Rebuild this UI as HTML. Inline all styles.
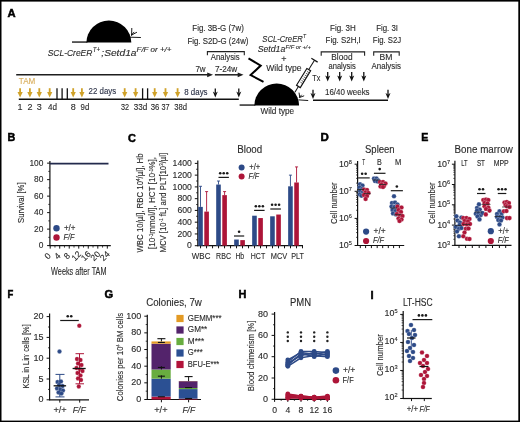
<!DOCTYPE html>
<html><head><meta charset="utf-8"><style>
html,body{margin:0;padding:0;background:#fff;}
body{width:520px;height:422px;overflow:hidden;}
svg{display:block;filter:blur(0.35px);}
text{font-family:"Liberation Sans", sans-serif;}
</style></head><body>
<svg width="520" height="422" viewBox="0 0 520 422">
<rect x="0" y="0" width="520" height="422" fill="#fff"/>
<g fill="#2a2a2a">
<text x="7.60" y="16.70" font-size="11.0" textLength="8.10" lengthAdjust="spacingAndGlyphs" font-weight="bold" fill="#000" stroke="#000" stroke-width="0.5">A</text>
<path d="M86.40,42.60 A22.45,22.10 0 0 1 131.30,42.60 Z" fill="#000" stroke="none" stroke-width="1"/>
<line x1="72.00" y1="42.05" x2="87.40" y2="42.05" stroke="#000" stroke-width="1.25" stroke-linecap="butt"/>
<line x1="131.80" y1="28.40" x2="131.60" y2="35.40" stroke="#000" stroke-width="0.9" stroke-linecap="round"/>
<line x1="131.70" y1="35.00" x2="136.60" y2="32.40" stroke="#000" stroke-width="0.9" stroke-linecap="round"/>
<line x1="131.70" y1="34.60" x2="134.00" y2="32.20" stroke="#000" stroke-width="0.9" stroke-linecap="round"/>
<line x1="130.40" y1="37.20" x2="140.50" y2="37.50" stroke="#000" stroke-width="0.9" stroke-linecap="round"/>
<text x="47.70" y="56.20" font-size="9.7" textLength="44.70" lengthAdjust="spacingAndGlyphs" font-style="italic" stroke="#2a2a2a" stroke-width="0.12">SCL-CreER</text>
<text x="92.80" y="52.10" font-size="6.6" textLength="7.40" lengthAdjust="spacingAndGlyphs" font-style="italic" stroke="#2a2a2a" stroke-width="0.12">T+</text>
<text x="101.30" y="56.30" font-size="9.7" textLength="35.20" lengthAdjust="spacingAndGlyphs" font-style="italic" stroke="#2a2a2a" stroke-width="0.12">;Setd1a</text>
<text x="136.50" y="52.30" font-size="6.6" textLength="35.00" lengthAdjust="spacingAndGlyphs" font-style="italic" stroke="#2a2a2a" stroke-width="0.12">F/F or +/+</text>
<line x1="16.20" y1="74.80" x2="208.00" y2="74.80" stroke="#1e1e1e" stroke-width="1.5" stroke-linecap="butt"/>
<path d="M207.20,72.40 L213.00,74.80 L207.20,77.20 Z" fill="#1e1e1e" stroke="none" stroke-width="1"/>
<line x1="214.90" y1="74.80" x2="238.50" y2="74.80" stroke="#1e1e1e" stroke-width="1.5" stroke-linecap="butt"/>
<path d="M237.70,72.40 L243.50,74.80 L237.70,77.20 Z" fill="#1e1e1e" stroke="none" stroke-width="1"/>
<text x="195.40" y="72.00" font-size="8.16" textLength="10.20" lengthAdjust="spacingAndGlyphs" stroke="#2a2a2a" stroke-width="0.12">7w</text>
<text x="214.90" y="72.00" font-size="8.16" textLength="22.40" lengthAdjust="spacingAndGlyphs" stroke="#2a2a2a" stroke-width="0.12">7-24w</text>
<text x="18.80" y="84.20" font-size="8.76" textLength="16.50" lengthAdjust="spacingAndGlyphs" fill="#d9ae5c" stroke="#d9ae5c" stroke-width="0.12">TAM</text>
<line x1="20.10" y1="88.20" x2="20.10" y2="94.40" stroke="#d0a22a" stroke-width="1.8" stroke-linecap="butt"/>
<path d="M17.50,92.00 L22.70,92.00 L20.10,97.40 Z" fill="#d0a22a" stroke="none" stroke-width="1"/>
<line x1="29.90" y1="88.20" x2="29.90" y2="94.40" stroke="#d0a22a" stroke-width="1.8" stroke-linecap="butt"/>
<path d="M27.30,92.00 L32.50,92.00 L29.90,97.40 Z" fill="#d0a22a" stroke="none" stroke-width="1"/>
<line x1="39.30" y1="88.20" x2="39.30" y2="94.40" stroke="#d0a22a" stroke-width="1.8" stroke-linecap="butt"/>
<path d="M36.70,92.00 L41.90,92.00 L39.30,97.40 Z" fill="#d0a22a" stroke="none" stroke-width="1"/>
<line x1="49.70" y1="88.20" x2="49.70" y2="94.40" stroke="#d0a22a" stroke-width="1.8" stroke-linecap="butt"/>
<path d="M47.10,92.00 L52.30,92.00 L49.70,97.40 Z" fill="#d0a22a" stroke="none" stroke-width="1"/>
<line x1="73.20" y1="88.20" x2="73.20" y2="94.40" stroke="#d0a22a" stroke-width="1.8" stroke-linecap="butt"/>
<path d="M70.60,92.00 L75.80,92.00 L73.20,97.40 Z" fill="#d0a22a" stroke="none" stroke-width="1"/>
<line x1="81.90" y1="88.20" x2="81.90" y2="94.40" stroke="#d0a22a" stroke-width="1.8" stroke-linecap="butt"/>
<path d="M79.30,92.00 L84.50,92.00 L81.90,97.40 Z" fill="#d0a22a" stroke="none" stroke-width="1"/>
<line x1="124.70" y1="88.20" x2="124.70" y2="94.40" stroke="#d0a22a" stroke-width="1.8" stroke-linecap="butt"/>
<path d="M122.10,92.00 L127.30,92.00 L124.70,97.40 Z" fill="#d0a22a" stroke="none" stroke-width="1"/>
<line x1="135.60" y1="88.20" x2="135.60" y2="94.40" stroke="#d0a22a" stroke-width="1.8" stroke-linecap="butt"/>
<path d="M133.00,92.00 L138.20,92.00 L135.60,97.40 Z" fill="#d0a22a" stroke="none" stroke-width="1"/>
<line x1="154.70" y1="88.20" x2="154.70" y2="94.40" stroke="#d0a22a" stroke-width="1.8" stroke-linecap="butt"/>
<path d="M152.10,92.00 L157.30,92.00 L154.70,97.40 Z" fill="#d0a22a" stroke="none" stroke-width="1"/>
<line x1="165.50" y1="88.20" x2="165.50" y2="94.40" stroke="#d0a22a" stroke-width="1.8" stroke-linecap="butt"/>
<path d="M162.90,92.00 L168.10,92.00 L165.50,97.40 Z" fill="#d0a22a" stroke="none" stroke-width="1"/>
<line x1="177.60" y1="88.20" x2="177.60" y2="94.40" stroke="#d0a22a" stroke-width="1.8" stroke-linecap="butt"/>
<path d="M175.00,92.00 L180.20,92.00 L177.60,97.40 Z" fill="#d0a22a" stroke="none" stroke-width="1"/>
<line x1="18.80" y1="99.20" x2="238.80" y2="99.20" stroke="#111" stroke-width="1.4" stroke-linecap="butt"/>
<line x1="57.00" y1="88.30" x2="57.00" y2="99.00" stroke="#111" stroke-width="1.3" stroke-linecap="butt"/>
<line x1="62.10" y1="88.30" x2="62.10" y2="99.00" stroke="#111" stroke-width="1.3" stroke-linecap="butt"/>
<line x1="67.30" y1="88.30" x2="67.30" y2="99.00" stroke="#111" stroke-width="1.3" stroke-linecap="butt"/>
<line x1="142.60" y1="88.30" x2="142.60" y2="99.00" stroke="#111" stroke-width="1.3" stroke-linecap="butt"/>
<line x1="147.60" y1="88.30" x2="147.60" y2="99.00" stroke="#111" stroke-width="1.3" stroke-linecap="butt"/>
<text x="88.60" y="93.90" font-size="9.0" textLength="27.60" lengthAdjust="spacingAndGlyphs" fill="#2a3045" stroke="#2a3045" stroke-width="0.12">22 days</text>
<text x="184.20" y="94.70" font-size="9.0" textLength="23.40" lengthAdjust="spacingAndGlyphs" fill="#2a3045" stroke="#2a3045" stroke-width="0.12">8 days</text>
<line x1="215.30" y1="88.50" x2="215.30" y2="93.10" stroke="#111" stroke-width="1.3" stroke-linecap="butt"/>
<path d="M212.80,91.60 L215.30,93.20 L217.80,91.60 L215.30,97.60 Z" fill="#111" stroke="none" stroke-width="1"/>
<line x1="238.80" y1="88.50" x2="238.80" y2="93.10" stroke="#111" stroke-width="1.3" stroke-linecap="butt"/>
<path d="M236.30,91.60 L238.80,93.20 L241.30,91.60 L238.80,97.60 Z" fill="#111" stroke="none" stroke-width="1"/>
<text x="20.10" y="109.80" font-size="9.0" text-anchor="middle" stroke="#2a2a2a" stroke-width="0.12">1</text>
<text x="29.90" y="109.80" font-size="9.0" text-anchor="middle" stroke="#2a2a2a" stroke-width="0.12">2</text>
<text x="39.30" y="109.80" font-size="9.0" text-anchor="middle" stroke="#2a2a2a" stroke-width="0.12">3</text>
<text x="73.20" y="109.80" font-size="9.0" text-anchor="middle" stroke="#2a2a2a" stroke-width="0.12">8</text>
<text x="48.00" y="109.80" font-size="9.0" textLength="9.00" lengthAdjust="spacingAndGlyphs" stroke="#2a2a2a" stroke-width="0.12">4d</text>
<text x="80.60" y="109.80" font-size="9.0" textLength="8.70" lengthAdjust="spacingAndGlyphs" stroke="#2a2a2a" stroke-width="0.12">9d</text>
<text x="121.00" y="109.80" font-size="9.0" textLength="8.10" lengthAdjust="spacingAndGlyphs" stroke="#2a2a2a" stroke-width="0.12">32</text>
<text x="133.80" y="109.80" font-size="9.0" textLength="13.50" lengthAdjust="spacingAndGlyphs" stroke="#2a2a2a" stroke-width="0.12">33d</text>
<text x="150.70" y="109.80" font-size="9.0" textLength="8.70" lengthAdjust="spacingAndGlyphs" stroke="#2a2a2a" stroke-width="0.12">36</text>
<text x="161.40" y="109.80" font-size="9.0" textLength="8.10" lengthAdjust="spacingAndGlyphs" stroke="#2a2a2a" stroke-width="0.12">37</text>
<text x="174.20" y="109.80" font-size="9.0" textLength="12.80" lengthAdjust="spacingAndGlyphs" stroke="#2a2a2a" stroke-width="0.12">38d</text>
<text x="192.30" y="30.80" font-size="8.64" textLength="51.50" lengthAdjust="spacingAndGlyphs" stroke="#2a2a2a" stroke-width="0.12">Fig. 3B-G (7w)</text>
<text x="187.40" y="43.50" font-size="8.64" textLength="61.10" lengthAdjust="spacingAndGlyphs" stroke="#2a2a2a" stroke-width="0.12">Fig. S2D-G (24w)</text>
<path d="M207.4,55.3 V51.6 H244.3 V55.3" fill="none" stroke="#222" stroke-width="1.1"/>
<text x="210.80" y="60.40" font-size="9.0" textLength="28.90" lengthAdjust="spacingAndGlyphs" stroke="#2a2a2a" stroke-width="0.12">Analysis</text>
<path d="M248.5,58.3 L260.7,65.6 L250.6,75.1 L263.5,81.8" fill="none" stroke="#000" stroke-width="2.0" stroke-linejoin="miter"/>
<text x="262.30" y="41.50" font-size="9.12" textLength="40.50" lengthAdjust="spacingAndGlyphs" font-style="italic" stroke="#2a2a2a" stroke-width="0.12">SCL-CreER</text>
<text x="303.00" y="38.30" font-size="6.0" textLength="3.00" lengthAdjust="spacingAndGlyphs" font-style="italic" stroke="#2a2a2a" stroke-width="0.12">T</text>
<text x="257.70" y="51.50" font-size="9.12" textLength="27.60" lengthAdjust="spacingAndGlyphs" font-style="italic" stroke="#2a2a2a" stroke-width="0.12">Setd1a</text>
<text x="285.60" y="48.60" font-size="6.0" textLength="25.20" lengthAdjust="spacingAndGlyphs" font-style="italic" stroke="#2a2a2a" stroke-width="0.12">F/F or +/+</text>
<text x="283.80" y="61.60" font-size="9.0" text-anchor="middle" stroke="#2a2a2a" stroke-width="0.12">+</text>
<text x="266.20" y="70.80" font-size="9.0" textLength="35.30" lengthAdjust="spacingAndGlyphs" stroke="#2a2a2a" stroke-width="0.12">Wild type</text>
<g transform="translate(314.5,60.2) rotate(121.5)"><line x1="0" y1="-3.7" x2="0" y2="3.7" stroke="#111" stroke-width="1.2"/><line x1="0" y1="0" x2="11" y2="0" stroke="#111" stroke-width="1"/><rect x="11" y="-2.2" width="19.8" height="4.4" fill="#fff" stroke="#111" stroke-width="1.15"/><line x1="13.5" y1="-2.2" x2="13.5" y2="0.5" stroke="#111" stroke-width="0.6"/><line x1="15.6" y1="-2.2" x2="15.6" y2="0.5" stroke="#111" stroke-width="0.6"/><line x1="17.7" y1="-2.2" x2="17.7" y2="0.5" stroke="#111" stroke-width="0.6"/><line x1="19.8" y1="-2.2" x2="19.8" y2="0.5" stroke="#111" stroke-width="0.6"/><line x1="21.9" y1="-2.2" x2="21.9" y2="0.5" stroke="#111" stroke-width="0.6"/><line x1="24.0" y1="-2.2" x2="24.0" y2="0.5" stroke="#111" stroke-width="0.6"/><line x1="26.1" y1="-2.2" x2="26.1" y2="0.5" stroke="#111" stroke-width="0.6"/><line x1="30.8" y1="0" x2="37.5" y2="0" stroke="#111" stroke-width="1"/></g>
<path d="M254.30,105.60 A22.40,22.00 0 0 1 299.10,105.60 Z" fill="#000" stroke="none" stroke-width="1"/>
<line x1="239.60" y1="105.05" x2="255.30" y2="105.05" stroke="#000" stroke-width="1.25" stroke-linecap="butt"/>
<line x1="299.10" y1="93.00" x2="299.70" y2="97.20" stroke="#000" stroke-width="0.9" stroke-linecap="round"/>
<line x1="299.70" y1="97.10" x2="301.40" y2="95.10" stroke="#000" stroke-width="0.9" stroke-linecap="round"/>
<line x1="299.80" y1="97.40" x2="303.80" y2="95.90" stroke="#000" stroke-width="0.9" stroke-linecap="round"/>
<line x1="298.80" y1="99.90" x2="307.80" y2="100.50" stroke="#000" stroke-width="0.9" stroke-linecap="round"/>
<text x="260.40" y="114.20" font-size="9.0" textLength="33.80" lengthAdjust="spacingAndGlyphs" stroke="#2a2a2a" stroke-width="0.12">Wild type</text>
<text x="330.00" y="30.80" font-size="8.64" textLength="25.80" lengthAdjust="spacingAndGlyphs" stroke="#2a2a2a" stroke-width="0.12">Fig. 3H</text>
<text x="325.60" y="42.90" font-size="8.64" textLength="35.20" lengthAdjust="spacingAndGlyphs" stroke="#2a2a2a" stroke-width="0.12">Fig. S2H,I</text>
<text x="376.20" y="30.80" font-size="8.64" textLength="21.80" lengthAdjust="spacingAndGlyphs" stroke="#2a2a2a" stroke-width="0.12">Fig. 3I</text>
<text x="372.70" y="42.90" font-size="8.64" textLength="28.50" lengthAdjust="spacingAndGlyphs" stroke="#2a2a2a" stroke-width="0.12">Fig. S2J</text>
<path d="M321.2,55.8 V51.9 H364.6 V55.8" fill="none" stroke="#222" stroke-width="1.1"/>
<path d="M373.7,55.8 V51.9 H399.2 V55.8" fill="none" stroke="#222" stroke-width="1.1"/>
<text x="331.30" y="59.50" font-size="9.0" textLength="21.20" lengthAdjust="spacingAndGlyphs" stroke="#2a2a2a" stroke-width="0.12">Blood</text>
<text x="379.40" y="59.50" font-size="9.0" textLength="12.90" lengthAdjust="spacingAndGlyphs" stroke="#2a2a2a" stroke-width="0.12">BM</text>
<text x="328.50" y="68.70" font-size="9.0" textLength="27.30" lengthAdjust="spacingAndGlyphs" stroke="#2a2a2a" stroke-width="0.12">analysis</text>
<text x="371.50" y="68.70" font-size="9.0" textLength="29.50" lengthAdjust="spacingAndGlyphs" stroke="#2a2a2a" stroke-width="0.12">Analysis</text>
<text x="312.30" y="80.70" font-size="9.0" textLength="8.00" lengthAdjust="spacingAndGlyphs" stroke="#2a2a2a" stroke-width="0.12">Tx</text>
<line x1="327.70" y1="72.00" x2="327.70" y2="76.90" stroke="#111" stroke-width="1.3" stroke-linecap="butt"/>
<path d="M325.20,75.40 L327.70,77.00 L330.20,75.40 L327.70,81.40 Z" fill="#111" stroke="none" stroke-width="1"/>
<line x1="339.70" y1="72.00" x2="339.70" y2="76.90" stroke="#111" stroke-width="1.3" stroke-linecap="butt"/>
<path d="M337.20,75.40 L339.70,77.00 L342.20,75.40 L339.70,81.40 Z" fill="#111" stroke="none" stroke-width="1"/>
<line x1="351.70" y1="72.00" x2="351.70" y2="76.90" stroke="#111" stroke-width="1.3" stroke-linecap="butt"/>
<path d="M349.20,75.40 L351.70,77.00 L354.20,75.40 L351.70,81.40 Z" fill="#111" stroke="none" stroke-width="1"/>
<line x1="363.80" y1="72.00" x2="363.80" y2="76.90" stroke="#111" stroke-width="1.3" stroke-linecap="butt"/>
<path d="M361.30,75.40 L363.80,77.00 L366.30,75.40 L363.80,81.40 Z" fill="#111" stroke="none" stroke-width="1"/>
<line x1="313.00" y1="100.20" x2="388.00" y2="100.20" stroke="#111" stroke-width="1.4" stroke-linecap="butt"/>
<line x1="313.00" y1="89.80" x2="313.00" y2="94.50" stroke="#111" stroke-width="1.3" stroke-linecap="butt"/>
<path d="M310.50,93.00 L313.00,94.60 L315.50,93.00 L313.00,99.00 Z" fill="#111" stroke="none" stroke-width="1"/>
<line x1="388.00" y1="89.80" x2="388.00" y2="94.50" stroke="#111" stroke-width="1.3" stroke-linecap="butt"/>
<path d="M385.50,93.00 L388.00,94.60 L390.50,93.00 L388.00,99.00 Z" fill="#111" stroke="none" stroke-width="1"/>
<text x="325.00" y="94.60" font-size="9.0" textLength="44.60" lengthAdjust="spacingAndGlyphs" stroke="#2a2a2a" stroke-width="0.12">16/40 weeks</text>
<text x="7.40" y="141.10" font-size="11.0" textLength="7.80" lengthAdjust="spacingAndGlyphs" font-weight="bold" fill="#000" stroke="#000" stroke-width="0.5">B</text>
<line x1="49.90" y1="161.00" x2="49.90" y2="246.10" stroke="#111" stroke-width="1.2" stroke-linecap="butt"/>
<line x1="49.40" y1="245.60" x2="110.80" y2="245.60" stroke="#111" stroke-width="1.2" stroke-linecap="butt"/>
<line x1="47.10" y1="245.60" x2="49.90" y2="245.60" stroke="#111" stroke-width="1" stroke-linecap="butt"/>
<text x="43.40" y="248.10" font-size="8.4" text-anchor="end" stroke="#2a2a2a" stroke-width="0.12">0</text>
<line x1="47.10" y1="229.11" x2="49.90" y2="229.11" stroke="#111" stroke-width="1" stroke-linecap="butt"/>
<text x="43.40" y="231.61" font-size="8.4" text-anchor="end" stroke="#2a2a2a" stroke-width="0.12">20</text>
<line x1="47.10" y1="212.62" x2="49.90" y2="212.62" stroke="#111" stroke-width="1" stroke-linecap="butt"/>
<text x="43.40" y="215.12" font-size="8.4" text-anchor="end" stroke="#2a2a2a" stroke-width="0.12">40</text>
<line x1="47.10" y1="196.13" x2="49.90" y2="196.13" stroke="#111" stroke-width="1" stroke-linecap="butt"/>
<text x="43.40" y="198.63" font-size="8.4" text-anchor="end" stroke="#2a2a2a" stroke-width="0.12">60</text>
<line x1="47.10" y1="179.64" x2="49.90" y2="179.64" stroke="#111" stroke-width="1" stroke-linecap="butt"/>
<text x="43.40" y="182.14" font-size="8.4" text-anchor="end" stroke="#2a2a2a" stroke-width="0.12">80</text>
<line x1="47.10" y1="163.15" x2="49.90" y2="163.15" stroke="#111" stroke-width="1" stroke-linecap="butt"/>
<text x="43.40" y="165.65" font-size="8.4" text-anchor="end" stroke="#2a2a2a" stroke-width="0.12">100</text>
<line x1="48.30" y1="237.35" x2="49.90" y2="237.35" stroke="#111" stroke-width="0.8" stroke-linecap="butt"/>
<line x1="48.30" y1="220.87" x2="49.90" y2="220.87" stroke="#111" stroke-width="0.8" stroke-linecap="butt"/>
<line x1="48.30" y1="204.38" x2="49.90" y2="204.38" stroke="#111" stroke-width="0.8" stroke-linecap="butt"/>
<line x1="48.30" y1="187.88" x2="49.90" y2="187.88" stroke="#111" stroke-width="0.8" stroke-linecap="butt"/>
<line x1="48.30" y1="171.39" x2="49.90" y2="171.39" stroke="#111" stroke-width="0.8" stroke-linecap="butt"/>
<line x1="50.20" y1="245.60" x2="50.20" y2="248.60" stroke="#111" stroke-width="1" stroke-linecap="butt"/>
<text x="0" y="0" font-size="8.64" text-anchor="middle" stroke="#2a2a2a" stroke-width="0.12" transform="translate(49.80,258.00) rotate(-45)">0</text>
<line x1="59.72" y1="245.60" x2="59.72" y2="248.60" stroke="#111" stroke-width="1" stroke-linecap="butt"/>
<text x="0" y="0" font-size="8.64" text-anchor="middle" stroke="#2a2a2a" stroke-width="0.12" transform="translate(59.32,258.00) rotate(-45)">4</text>
<line x1="69.24" y1="245.60" x2="69.24" y2="248.60" stroke="#111" stroke-width="1" stroke-linecap="butt"/>
<text x="0" y="0" font-size="8.64" text-anchor="middle" stroke="#2a2a2a" stroke-width="0.12" transform="translate(68.84,258.00) rotate(-45)">8</text>
<line x1="78.76" y1="245.60" x2="78.76" y2="248.60" stroke="#111" stroke-width="1" stroke-linecap="butt"/>
<text x="0" y="0" font-size="8.64" text-anchor="middle" stroke="#2a2a2a" stroke-width="0.12" transform="translate(78.36,258.00) rotate(-45)">12</text>
<line x1="88.28" y1="245.60" x2="88.28" y2="248.60" stroke="#111" stroke-width="1" stroke-linecap="butt"/>
<text x="0" y="0" font-size="8.64" text-anchor="middle" stroke="#2a2a2a" stroke-width="0.12" transform="translate(87.88,258.00) rotate(-45)">16</text>
<line x1="97.80" y1="245.60" x2="97.80" y2="248.60" stroke="#111" stroke-width="1" stroke-linecap="butt"/>
<text x="0" y="0" font-size="8.64" text-anchor="middle" stroke="#2a2a2a" stroke-width="0.12" transform="translate(97.40,258.00) rotate(-45)">20</text>
<line x1="107.32" y1="245.60" x2="107.32" y2="248.60" stroke="#111" stroke-width="1" stroke-linecap="butt"/>
<text x="0" y="0" font-size="8.64" text-anchor="middle" stroke="#2a2a2a" stroke-width="0.12" transform="translate(106.92,258.00) rotate(-45)">24</text>
<line x1="54.96" y1="245.60" x2="54.96" y2="247.60" stroke="#111" stroke-width="0.8" stroke-linecap="butt"/>
<line x1="64.48" y1="245.60" x2="64.48" y2="247.60" stroke="#111" stroke-width="0.8" stroke-linecap="butt"/>
<line x1="74.00" y1="245.60" x2="74.00" y2="247.60" stroke="#111" stroke-width="0.8" stroke-linecap="butt"/>
<line x1="83.52" y1="245.60" x2="83.52" y2="247.60" stroke="#111" stroke-width="0.8" stroke-linecap="butt"/>
<line x1="93.04" y1="245.60" x2="93.04" y2="247.60" stroke="#111" stroke-width="0.8" stroke-linecap="butt"/>
<line x1="102.56" y1="245.60" x2="102.56" y2="247.60" stroke="#111" stroke-width="0.8" stroke-linecap="butt"/>
<line x1="49.90" y1="163.60" x2="108.50" y2="163.60" stroke="#232a4c" stroke-width="1.7" stroke-linecap="butt"/>
<text x="0" y="0" font-size="8.88" textLength="40.60" lengthAdjust="spacingAndGlyphs" text-anchor="middle" stroke="#2a2a2a" stroke-width="0.12" transform="translate(23.50,202.70) rotate(-90)">Survival [%]</text>
<circle cx="56.50" cy="228.30" r="3.2" fill="#2d4a87"/>
<circle cx="56.50" cy="237.50" r="3.2" fill="#ad1538"/>
<text x="63.90" y="230.90" font-size="8.64" textLength="11.60" lengthAdjust="spacingAndGlyphs" stroke="#2a2a2a" stroke-width="0.12">+/+</text>
<text x="63.60" y="239.80" font-size="8.64" textLength="11.00" lengthAdjust="spacingAndGlyphs" font-style="italic" stroke="#2a2a2a" stroke-width="0.12">F/F</text>
<text x="51.10" y="274.60" font-size="11.16" textLength="55.40" lengthAdjust="spacingAndGlyphs" stroke="#2a2a2a" stroke-width="0.12">Weeks after TAM</text>
<text x="128.10" y="141.50" font-size="11.0" textLength="7.90" lengthAdjust="spacingAndGlyphs" font-weight="bold" fill="#000" stroke="#000" stroke-width="0.5">C</text>
<text x="237.20" y="152.60" font-size="10.44" textLength="25.00" lengthAdjust="spacingAndGlyphs" stroke="#2a2a2a" stroke-width="0.12">Blood</text>
<line x1="197.80" y1="160.50" x2="197.80" y2="246.20" stroke="#111" stroke-width="1.2" stroke-linecap="butt"/>
<line x1="197.30" y1="245.70" x2="303.00" y2="245.70" stroke="#111" stroke-width="1.2" stroke-linecap="butt"/>
<line x1="194.80" y1="245.70" x2="197.80" y2="245.70" stroke="#111" stroke-width="1" stroke-linecap="butt"/>
<text x="191.80" y="248.30" font-size="8.64" text-anchor="end" stroke="#2a2a2a" stroke-width="0.12">0</text>
<line x1="194.80" y1="233.94" x2="197.80" y2="233.94" stroke="#111" stroke-width="1" stroke-linecap="butt"/>
<text x="191.80" y="236.54" font-size="8.64" text-anchor="end" stroke="#2a2a2a" stroke-width="0.12">200</text>
<line x1="194.80" y1="222.18" x2="197.80" y2="222.18" stroke="#111" stroke-width="1" stroke-linecap="butt"/>
<text x="191.80" y="224.78" font-size="8.64" text-anchor="end" stroke="#2a2a2a" stroke-width="0.12">400</text>
<line x1="194.80" y1="210.42" x2="197.80" y2="210.42" stroke="#111" stroke-width="1" stroke-linecap="butt"/>
<text x="191.80" y="213.02" font-size="8.64" text-anchor="end" stroke="#2a2a2a" stroke-width="0.12">600</text>
<line x1="194.80" y1="198.66" x2="197.80" y2="198.66" stroke="#111" stroke-width="1" stroke-linecap="butt"/>
<text x="191.80" y="201.26" font-size="8.64" text-anchor="end" stroke="#2a2a2a" stroke-width="0.12">800</text>
<line x1="194.80" y1="186.90" x2="197.80" y2="186.90" stroke="#111" stroke-width="1" stroke-linecap="butt"/>
<text x="191.80" y="189.50" font-size="8.64" text-anchor="end" stroke="#2a2a2a" stroke-width="0.12">1000</text>
<line x1="194.80" y1="175.14" x2="197.80" y2="175.14" stroke="#111" stroke-width="1" stroke-linecap="butt"/>
<text x="191.80" y="177.74" font-size="8.64" text-anchor="end" stroke="#2a2a2a" stroke-width="0.12">1200</text>
<line x1="194.80" y1="163.38" x2="197.80" y2="163.38" stroke="#111" stroke-width="1" stroke-linecap="butt"/>
<text x="191.80" y="165.98" font-size="8.64" text-anchor="end" stroke="#2a2a2a" stroke-width="0.12">1400</text>
<line x1="196.10" y1="239.82" x2="197.80" y2="239.82" stroke="#111" stroke-width="0.8" stroke-linecap="butt"/>
<line x1="196.10" y1="228.06" x2="197.80" y2="228.06" stroke="#111" stroke-width="0.8" stroke-linecap="butt"/>
<line x1="196.10" y1="216.30" x2="197.80" y2="216.30" stroke="#111" stroke-width="0.8" stroke-linecap="butt"/>
<line x1="196.10" y1="204.54" x2="197.80" y2="204.54" stroke="#111" stroke-width="0.8" stroke-linecap="butt"/>
<line x1="196.10" y1="192.78" x2="197.80" y2="192.78" stroke="#111" stroke-width="0.8" stroke-linecap="butt"/>
<line x1="196.10" y1="181.02" x2="197.80" y2="181.02" stroke="#111" stroke-width="0.8" stroke-linecap="butt"/>
<line x1="196.10" y1="169.26" x2="197.80" y2="169.26" stroke="#111" stroke-width="0.8" stroke-linecap="butt"/>
<line x1="200.50" y1="186.31" x2="200.50" y2="206.89" stroke="#2d4a87" stroke-width="0.9" stroke-linecap="butt"/>
<line x1="199.00" y1="186.31" x2="202.00" y2="186.31" stroke="#2d4a87" stroke-width="0.9" stroke-linecap="butt"/>
<line x1="206.60" y1="191.60" x2="206.60" y2="211.60" stroke="#ad1538" stroke-width="0.9" stroke-linecap="butt"/>
<line x1="205.10" y1="191.60" x2="208.10" y2="191.60" stroke="#ad1538" stroke-width="0.9" stroke-linecap="butt"/>
<rect x="198.20" y="206.89" width="4.60" height="38.81" fill="#2d4a87"/>
<rect x="204.30" y="211.60" width="4.60" height="34.10" fill="#ad1538"/>
<line x1="218.49" y1="181.02" x2="218.49" y2="184.55" stroke="#2d4a87" stroke-width="0.9" stroke-linecap="butt"/>
<line x1="216.99" y1="181.02" x2="219.99" y2="181.02" stroke="#2d4a87" stroke-width="0.9" stroke-linecap="butt"/>
<line x1="224.59" y1="191.60" x2="224.59" y2="195.13" stroke="#ad1538" stroke-width="0.9" stroke-linecap="butt"/>
<line x1="223.09" y1="191.60" x2="226.09" y2="191.60" stroke="#ad1538" stroke-width="0.9" stroke-linecap="butt"/>
<rect x="216.19" y="184.55" width="4.60" height="61.15" fill="#2d4a87"/>
<rect x="222.29" y="195.13" width="4.60" height="50.57" fill="#ad1538"/>
<rect x="234.18" y="239.53" width="4.60" height="6.17" fill="#2d4a87"/>
<rect x="240.28" y="240.11" width="4.60" height="5.59" fill="#ad1538"/>
<rect x="252.17" y="215.71" width="4.60" height="29.99" fill="#2d4a87"/>
<rect x="258.27" y="218.06" width="4.60" height="27.64" fill="#ad1538"/>
<rect x="270.16" y="216.30" width="4.60" height="29.40" fill="#2d4a87"/>
<rect x="276.26" y="214.54" width="4.60" height="31.16" fill="#ad1538"/>
<line x1="290.45" y1="175.14" x2="290.45" y2="186.31" stroke="#2d4a87" stroke-width="0.9" stroke-linecap="butt"/>
<line x1="288.95" y1="175.14" x2="291.95" y2="175.14" stroke="#2d4a87" stroke-width="0.9" stroke-linecap="butt"/>
<line x1="296.55" y1="166.91" x2="296.55" y2="182.49" stroke="#ad1538" stroke-width="0.9" stroke-linecap="butt"/>
<line x1="295.05" y1="166.91" x2="298.05" y2="166.91" stroke="#ad1538" stroke-width="0.9" stroke-linecap="butt"/>
<rect x="288.15" y="186.31" width="4.60" height="59.39" fill="#2d4a87"/>
<rect x="294.25" y="182.49" width="4.60" height="63.21" fill="#ad1538"/>
<line x1="200.55" y1="245.70" x2="200.55" y2="248.30" stroke="#111" stroke-width="1" stroke-linecap="butt"/>
<line x1="206.55" y1="245.70" x2="206.55" y2="248.30" stroke="#111" stroke-width="1" stroke-linecap="butt"/>
<line x1="212.55" y1="245.70" x2="212.55" y2="248.30" stroke="#111" stroke-width="1" stroke-linecap="butt"/>
<line x1="218.54" y1="245.70" x2="218.54" y2="248.30" stroke="#111" stroke-width="1" stroke-linecap="butt"/>
<line x1="224.54" y1="245.70" x2="224.54" y2="248.30" stroke="#111" stroke-width="1" stroke-linecap="butt"/>
<line x1="230.54" y1="245.70" x2="230.54" y2="248.30" stroke="#111" stroke-width="1" stroke-linecap="butt"/>
<line x1="236.53" y1="245.70" x2="236.53" y2="248.30" stroke="#111" stroke-width="1" stroke-linecap="butt"/>
<line x1="242.53" y1="245.70" x2="242.53" y2="248.30" stroke="#111" stroke-width="1" stroke-linecap="butt"/>
<line x1="248.53" y1="245.70" x2="248.53" y2="248.30" stroke="#111" stroke-width="1" stroke-linecap="butt"/>
<line x1="254.52" y1="245.70" x2="254.52" y2="248.30" stroke="#111" stroke-width="1" stroke-linecap="butt"/>
<line x1="260.52" y1="245.70" x2="260.52" y2="248.30" stroke="#111" stroke-width="1" stroke-linecap="butt"/>
<line x1="266.52" y1="245.70" x2="266.52" y2="248.30" stroke="#111" stroke-width="1" stroke-linecap="butt"/>
<line x1="272.51" y1="245.70" x2="272.51" y2="248.30" stroke="#111" stroke-width="1" stroke-linecap="butt"/>
<line x1="278.51" y1="245.70" x2="278.51" y2="248.30" stroke="#111" stroke-width="1" stroke-linecap="butt"/>
<line x1="284.51" y1="245.70" x2="284.51" y2="248.30" stroke="#111" stroke-width="1" stroke-linecap="butt"/>
<line x1="290.50" y1="245.70" x2="290.50" y2="248.30" stroke="#111" stroke-width="1" stroke-linecap="butt"/>
<line x1="296.50" y1="245.70" x2="296.50" y2="248.30" stroke="#111" stroke-width="1" stroke-linecap="butt"/>
<line x1="302.50" y1="245.70" x2="302.50" y2="248.30" stroke="#111" stroke-width="1" stroke-linecap="butt"/>
<line x1="218.50" y1="177.40" x2="228.90" y2="177.40" stroke="#1a1a1a" stroke-width="1.2" stroke-linecap="butt"/>
<circle cx="220.20" cy="173.20" r="1.3" fill="#1a1a1a"/>
<circle cx="223.70" cy="173.20" r="1.3" fill="#1a1a1a"/>
<circle cx="227.20" cy="173.20" r="1.3" fill="#1a1a1a"/>
<line x1="234.00" y1="236.00" x2="244.20" y2="236.00" stroke="#1a1a1a" stroke-width="1.2" stroke-linecap="butt"/>
<circle cx="239.10" cy="231.80" r="1.3" fill="#1a1a1a"/>
<line x1="254.10" y1="210.40" x2="264.60" y2="210.40" stroke="#1a1a1a" stroke-width="1.2" stroke-linecap="butt"/>
<circle cx="255.85" cy="206.20" r="1.3" fill="#1a1a1a"/>
<circle cx="259.35" cy="206.20" r="1.3" fill="#1a1a1a"/>
<circle cx="262.85" cy="206.20" r="1.3" fill="#1a1a1a"/>
<line x1="270.30" y1="209.00" x2="280.90" y2="209.00" stroke="#1a1a1a" stroke-width="1.2" stroke-linecap="butt"/>
<circle cx="272.10" cy="204.80" r="1.3" fill="#1a1a1a"/>
<circle cx="275.60" cy="204.80" r="1.3" fill="#1a1a1a"/>
<circle cx="279.10" cy="204.80" r="1.3" fill="#1a1a1a"/>
<text x="191.80" y="259.00" font-size="9.12" textLength="18.60" lengthAdjust="spacingAndGlyphs" stroke="#2a2a2a" stroke-width="0.12">WBC</text>
<text x="216.10" y="259.00" font-size="9.12" textLength="14.90" lengthAdjust="spacingAndGlyphs" stroke="#2a2a2a" stroke-width="0.12">RBC</text>
<text x="235.40" y="259.00" font-size="9.12" textLength="8.80" lengthAdjust="spacingAndGlyphs" stroke="#2a2a2a" stroke-width="0.12">Hb</text>
<text x="250.80" y="259.00" font-size="9.12" textLength="14.40" lengthAdjust="spacingAndGlyphs" stroke="#2a2a2a" stroke-width="0.12">HCT</text>
<text x="270.80" y="259.00" font-size="9.12" textLength="16.50" lengthAdjust="spacingAndGlyphs" stroke="#2a2a2a" stroke-width="0.12">MCV</text>
<text x="291.30" y="259.00" font-size="9.12" textLength="12.70" lengthAdjust="spacingAndGlyphs" stroke="#2a2a2a" stroke-width="0.12">PLT</text>
<circle cx="241.60" cy="167.60" r="3" fill="#2d4a87"/>
<circle cx="241.60" cy="176.60" r="3" fill="#ad1538"/>
<text x="249.30" y="170.30" font-size="8.64" textLength="11.00" lengthAdjust="spacingAndGlyphs" stroke="#2a2a2a" stroke-width="0.12">+/+</text>
<text x="248.60" y="179.10" font-size="8.64" textLength="10.60" lengthAdjust="spacingAndGlyphs" font-style="italic" stroke="#2a2a2a" stroke-width="0.12">F/F</text>
<text x="0" y="0" font-size="9.36" textLength="99.10" lengthAdjust="spacingAndGlyphs" text-anchor="middle" stroke="#2a2a2a" stroke-width="0.12" transform="translate(142.90,203.00) rotate(-90)">WBC 10/µl], RBC 10<tspan font-size="5.4" dy="-2.8">4</tspan><tspan dy="2.8">/µl], Hb</tspan></text>
<text x="0" y="0" font-size="9.36" textLength="92.00" lengthAdjust="spacingAndGlyphs" text-anchor="middle" stroke="#2a2a2a" stroke-width="0.12" transform="translate(155.40,203.10) rotate(-90)">[10<tspan font-size="5.4" dy="-2.8">-1</tspan><tspan dy="2.8">mmol/l], HCT [10</tspan><tspan font-size="5.4" dy="-2.8">-1</tspan><tspan dy="2.8">%],</tspan></text>
<text x="0" y="0" font-size="9.36" textLength="99.80" lengthAdjust="spacingAndGlyphs" text-anchor="middle" stroke="#2a2a2a" stroke-width="0.12" transform="translate(166.00,202.70) rotate(-90)">MCV [10<tspan font-size="5.4" dy="-2.8">-1</tspan><tspan dy="2.8"> fL] and PLT[10</tspan><tspan font-size="5.4" dy="-2.8">3</tspan><tspan dy="2.8">/µl]</tspan></text>
<text x="320.50" y="140.70" font-size="11.0" textLength="8.30" lengthAdjust="spacingAndGlyphs" font-weight="bold" fill="#000" stroke="#000" stroke-width="0.5">D</text>
<text x="365.00" y="152.90" font-size="10.44" textLength="29.60" lengthAdjust="spacingAndGlyphs" stroke="#2a2a2a" stroke-width="0.12">Spleen</text>
<line x1="357.60" y1="161.00" x2="357.60" y2="246.00" stroke="#111" stroke-width="1.2" stroke-linecap="butt"/>
<line x1="357.10" y1="245.50" x2="404.20" y2="245.50" stroke="#111" stroke-width="1.2" stroke-linecap="butt"/>
<line x1="354.60" y1="245.50" x2="357.60" y2="245.50" stroke="#111" stroke-width="1" stroke-linecap="butt"/>
<text x="351.90" y="248.10" font-size="8.88" text-anchor="end" stroke="#2a2a2a" stroke-width="0.12">10<tspan font-size="5.6" dy="-3.3">5</tspan></text>
<line x1="356.00" y1="237.34" x2="357.60" y2="237.34" stroke="#111" stroke-width="0.7" stroke-linecap="butt"/>
<line x1="356.00" y1="232.57" x2="357.60" y2="232.57" stroke="#111" stroke-width="0.7" stroke-linecap="butt"/>
<line x1="356.00" y1="229.18" x2="357.60" y2="229.18" stroke="#111" stroke-width="0.7" stroke-linecap="butt"/>
<line x1="356.00" y1="226.56" x2="357.60" y2="226.56" stroke="#111" stroke-width="0.7" stroke-linecap="butt"/>
<line x1="356.00" y1="224.41" x2="357.60" y2="224.41" stroke="#111" stroke-width="0.7" stroke-linecap="butt"/>
<line x1="356.00" y1="222.60" x2="357.60" y2="222.60" stroke="#111" stroke-width="0.7" stroke-linecap="butt"/>
<line x1="356.00" y1="221.03" x2="357.60" y2="221.03" stroke="#111" stroke-width="0.7" stroke-linecap="butt"/>
<line x1="356.00" y1="219.64" x2="357.60" y2="219.64" stroke="#111" stroke-width="0.7" stroke-linecap="butt"/>
<line x1="354.60" y1="218.40" x2="357.60" y2="218.40" stroke="#111" stroke-width="1" stroke-linecap="butt"/>
<text x="351.90" y="221.00" font-size="8.88" text-anchor="end" stroke="#2a2a2a" stroke-width="0.12">10<tspan font-size="5.6" dy="-3.3">6</tspan></text>
<line x1="356.00" y1="210.24" x2="357.60" y2="210.24" stroke="#111" stroke-width="0.7" stroke-linecap="butt"/>
<line x1="356.00" y1="205.47" x2="357.60" y2="205.47" stroke="#111" stroke-width="0.7" stroke-linecap="butt"/>
<line x1="356.00" y1="202.08" x2="357.60" y2="202.08" stroke="#111" stroke-width="0.7" stroke-linecap="butt"/>
<line x1="356.00" y1="199.46" x2="357.60" y2="199.46" stroke="#111" stroke-width="0.7" stroke-linecap="butt"/>
<line x1="356.00" y1="197.31" x2="357.60" y2="197.31" stroke="#111" stroke-width="0.7" stroke-linecap="butt"/>
<line x1="356.00" y1="195.50" x2="357.60" y2="195.50" stroke="#111" stroke-width="0.7" stroke-linecap="butt"/>
<line x1="356.00" y1="193.93" x2="357.60" y2="193.93" stroke="#111" stroke-width="0.7" stroke-linecap="butt"/>
<line x1="356.00" y1="192.54" x2="357.60" y2="192.54" stroke="#111" stroke-width="0.7" stroke-linecap="butt"/>
<line x1="354.60" y1="191.30" x2="357.60" y2="191.30" stroke="#111" stroke-width="1" stroke-linecap="butt"/>
<text x="351.90" y="193.90" font-size="8.88" text-anchor="end" stroke="#2a2a2a" stroke-width="0.12">10<tspan font-size="5.6" dy="-3.3">7</tspan></text>
<line x1="356.00" y1="183.14" x2="357.60" y2="183.14" stroke="#111" stroke-width="0.7" stroke-linecap="butt"/>
<line x1="356.00" y1="178.37" x2="357.60" y2="178.37" stroke="#111" stroke-width="0.7" stroke-linecap="butt"/>
<line x1="356.00" y1="174.98" x2="357.60" y2="174.98" stroke="#111" stroke-width="0.7" stroke-linecap="butt"/>
<line x1="356.00" y1="172.36" x2="357.60" y2="172.36" stroke="#111" stroke-width="0.7" stroke-linecap="butt"/>
<line x1="356.00" y1="170.21" x2="357.60" y2="170.21" stroke="#111" stroke-width="0.7" stroke-linecap="butt"/>
<line x1="356.00" y1="168.40" x2="357.60" y2="168.40" stroke="#111" stroke-width="0.7" stroke-linecap="butt"/>
<line x1="356.00" y1="166.83" x2="357.60" y2="166.83" stroke="#111" stroke-width="0.7" stroke-linecap="butt"/>
<line x1="356.00" y1="165.44" x2="357.60" y2="165.44" stroke="#111" stroke-width="0.7" stroke-linecap="butt"/>
<line x1="354.60" y1="164.20" x2="357.60" y2="164.20" stroke="#111" stroke-width="1" stroke-linecap="butt"/>
<text x="351.90" y="166.80" font-size="8.88" text-anchor="end" stroke="#2a2a2a" stroke-width="0.12">10<tspan font-size="5.6" dy="-3.3">8</tspan></text>
<line x1="360.30" y1="245.50" x2="360.30" y2="248.10" stroke="#111" stroke-width="1" stroke-linecap="butt"/>
<line x1="365.60" y1="245.50" x2="365.60" y2="248.10" stroke="#111" stroke-width="1" stroke-linecap="butt"/>
<line x1="371.40" y1="245.50" x2="371.40" y2="248.10" stroke="#111" stroke-width="1" stroke-linecap="butt"/>
<line x1="377.20" y1="245.50" x2="377.20" y2="248.10" stroke="#111" stroke-width="1" stroke-linecap="butt"/>
<line x1="382.70" y1="245.50" x2="382.70" y2="248.10" stroke="#111" stroke-width="1" stroke-linecap="butt"/>
<line x1="388.30" y1="245.50" x2="388.30" y2="248.10" stroke="#111" stroke-width="1" stroke-linecap="butt"/>
<line x1="393.60" y1="245.50" x2="393.60" y2="248.10" stroke="#111" stroke-width="1" stroke-linecap="butt"/>
<line x1="399.40" y1="245.50" x2="399.40" y2="248.10" stroke="#111" stroke-width="1" stroke-linecap="butt"/>
<text x="362.20" y="165.20" font-size="8.28" textLength="2.90" lengthAdjust="spacingAndGlyphs" stroke="#2a2a2a" stroke-width="0.12">T</text>
<text x="377.10" y="165.20" font-size="8.28" textLength="4.80" lengthAdjust="spacingAndGlyphs" stroke="#2a2a2a" stroke-width="0.12">B</text>
<text x="394.90" y="165.20" font-size="8.28" textLength="6.30" lengthAdjust="spacingAndGlyphs" stroke="#2a2a2a" stroke-width="0.12">M</text>
<circle cx="360.00" cy="184.20" r="2.3" fill="#2d4a87" stroke="#fff" stroke-opacity="0.6" stroke-width="0.4"/>
<circle cx="362.50" cy="185.50" r="2.3" fill="#2d4a87" stroke="#fff" stroke-opacity="0.6" stroke-width="0.4"/>
<circle cx="359.50" cy="187.50" r="2.3" fill="#2d4a87" stroke="#fff" stroke-opacity="0.6" stroke-width="0.4"/>
<circle cx="362.00" cy="189.00" r="2.3" fill="#2d4a87" stroke="#fff" stroke-opacity="0.6" stroke-width="0.4"/>
<circle cx="360.00" cy="191.00" r="2.3" fill="#2d4a87" stroke="#fff" stroke-opacity="0.6" stroke-width="0.4"/>
<circle cx="362.80" cy="192.30" r="2.3" fill="#2d4a87" stroke="#fff" stroke-opacity="0.6" stroke-width="0.4"/>
<circle cx="359.80" cy="194.50" r="2.3" fill="#2d4a87" stroke="#fff" stroke-opacity="0.6" stroke-width="0.4"/>
<circle cx="361.50" cy="195.80" r="2.3" fill="#2d4a87" stroke="#fff" stroke-opacity="0.6" stroke-width="0.4"/>
<circle cx="374.00" cy="178.50" r="2.3" fill="#2d4a87" stroke="#fff" stroke-opacity="0.6" stroke-width="0.4"/>
<circle cx="376.50" cy="178.50" r="2.3" fill="#2d4a87" stroke="#fff" stroke-opacity="0.6" stroke-width="0.4"/>
<circle cx="378.30" cy="180.50" r="2.3" fill="#2d4a87" stroke="#fff" stroke-opacity="0.6" stroke-width="0.4"/>
<circle cx="375.00" cy="181.00" r="2.3" fill="#2d4a87" stroke="#fff" stroke-opacity="0.6" stroke-width="0.4"/>
<circle cx="377.50" cy="181.50" r="2.3" fill="#2d4a87" stroke="#fff" stroke-opacity="0.6" stroke-width="0.4"/>
<circle cx="394.00" cy="196.20" r="2.3" fill="#2d4a87" stroke="#fff" stroke-opacity="0.6" stroke-width="0.4"/>
<circle cx="392.00" cy="203.00" r="2.3" fill="#2d4a87" stroke="#fff" stroke-opacity="0.6" stroke-width="0.4"/>
<circle cx="395.00" cy="202.50" r="2.3" fill="#2d4a87" stroke="#fff" stroke-opacity="0.6" stroke-width="0.4"/>
<circle cx="397.50" cy="204.50" r="2.3" fill="#2d4a87" stroke="#fff" stroke-opacity="0.6" stroke-width="0.4"/>
<circle cx="391.50" cy="206.50" r="2.3" fill="#2d4a87" stroke="#fff" stroke-opacity="0.6" stroke-width="0.4"/>
<circle cx="394.50" cy="207.00" r="2.3" fill="#2d4a87" stroke="#fff" stroke-opacity="0.6" stroke-width="0.4"/>
<circle cx="397.50" cy="208.00" r="2.3" fill="#2d4a87" stroke="#fff" stroke-opacity="0.6" stroke-width="0.4"/>
<circle cx="392.50" cy="210.00" r="2.3" fill="#2d4a87" stroke="#fff" stroke-opacity="0.6" stroke-width="0.4"/>
<circle cx="395.50" cy="211.00" r="2.3" fill="#2d4a87" stroke="#fff" stroke-opacity="0.6" stroke-width="0.4"/>
<circle cx="393.00" cy="213.50" r="2.3" fill="#2d4a87" stroke="#fff" stroke-opacity="0.6" stroke-width="0.4"/>
<circle cx="396.00" cy="214.50" r="2.3" fill="#2d4a87" stroke="#fff" stroke-opacity="0.6" stroke-width="0.4"/>
<circle cx="364.00" cy="189.50" r="2.3" fill="#ad1538" stroke="#fff" stroke-opacity="0.6" stroke-width="0.4"/>
<circle cx="367.00" cy="190.00" r="2.3" fill="#ad1538" stroke="#fff" stroke-opacity="0.6" stroke-width="0.4"/>
<circle cx="365.50" cy="192.50" r="2.3" fill="#ad1538" stroke="#fff" stroke-opacity="0.6" stroke-width="0.4"/>
<circle cx="368.50" cy="193.00" r="2.3" fill="#ad1538" stroke="#fff" stroke-opacity="0.6" stroke-width="0.4"/>
<circle cx="364.00" cy="195.00" r="2.3" fill="#ad1538" stroke="#fff" stroke-opacity="0.6" stroke-width="0.4"/>
<circle cx="367.00" cy="196.00" r="2.3" fill="#ad1538" stroke="#fff" stroke-opacity="0.6" stroke-width="0.4"/>
<circle cx="365.60" cy="199.00" r="2.3" fill="#ad1538" stroke="#fff" stroke-opacity="0.6" stroke-width="0.4"/>
<circle cx="380.00" cy="182.00" r="2.3" fill="#ad1538" stroke="#fff" stroke-opacity="0.6" stroke-width="0.4"/>
<circle cx="383.00" cy="182.00" r="2.3" fill="#ad1538" stroke="#fff" stroke-opacity="0.6" stroke-width="0.4"/>
<circle cx="385.50" cy="183.50" r="2.3" fill="#ad1538" stroke="#fff" stroke-opacity="0.6" stroke-width="0.4"/>
<circle cx="381.50" cy="184.50" r="2.3" fill="#ad1538" stroke="#fff" stroke-opacity="0.6" stroke-width="0.4"/>
<circle cx="384.00" cy="186.00" r="2.3" fill="#ad1538" stroke="#fff" stroke-opacity="0.6" stroke-width="0.4"/>
<circle cx="380.50" cy="186.50" r="2.3" fill="#ad1538" stroke="#fff" stroke-opacity="0.6" stroke-width="0.4"/>
<circle cx="383.00" cy="187.00" r="2.3" fill="#ad1538" stroke="#fff" stroke-opacity="0.6" stroke-width="0.4"/>
<circle cx="397.50" cy="206.50" r="2.3" fill="#ad1538" stroke="#fff" stroke-opacity="0.6" stroke-width="0.4"/>
<circle cx="401.50" cy="207.50" r="2.3" fill="#ad1538" stroke="#fff" stroke-opacity="0.6" stroke-width="0.4"/>
<circle cx="398.50" cy="210.00" r="2.3" fill="#ad1538" stroke="#fff" stroke-opacity="0.6" stroke-width="0.4"/>
<circle cx="401.00" cy="212.00" r="2.3" fill="#ad1538" stroke="#fff" stroke-opacity="0.6" stroke-width="0.4"/>
<circle cx="397.00" cy="214.00" r="2.3" fill="#ad1538" stroke="#fff" stroke-opacity="0.6" stroke-width="0.4"/>
<circle cx="400.00" cy="215.50" r="2.3" fill="#ad1538" stroke="#fff" stroke-opacity="0.6" stroke-width="0.4"/>
<circle cx="402.50" cy="216.00" r="2.3" fill="#ad1538" stroke="#fff" stroke-opacity="0.6" stroke-width="0.4"/>
<circle cx="398.50" cy="218.50" r="2.3" fill="#ad1538" stroke="#fff" stroke-opacity="0.6" stroke-width="0.4"/>
<circle cx="401.50" cy="219.50" r="2.3" fill="#ad1538" stroke="#fff" stroke-opacity="0.6" stroke-width="0.4"/>
<circle cx="399.50" cy="221.00" r="2.3" fill="#ad1538" stroke="#fff" stroke-opacity="0.6" stroke-width="0.4"/>
<line x1="357.80" y1="189.50" x2="364.00" y2="189.50" stroke="#222" stroke-width="0.8" stroke-linecap="butt"/>
<line x1="363.80" y1="193.60" x2="370.60" y2="193.60" stroke="#222" stroke-width="0.8" stroke-linecap="butt"/>
<line x1="372.50" y1="180.00" x2="379.50" y2="180.00" stroke="#222" stroke-width="0.8" stroke-linecap="butt"/>
<line x1="379.00" y1="184.50" x2="386.00" y2="184.50" stroke="#222" stroke-width="0.8" stroke-linecap="butt"/>
<line x1="390.50" y1="208.00" x2="397.00" y2="208.00" stroke="#222" stroke-width="0.8" stroke-linecap="butt"/>
<line x1="394.70" y1="214.70" x2="401.40" y2="214.70" stroke="#222" stroke-width="0.8" stroke-linecap="butt"/>
<line x1="358.10" y1="177.90" x2="369.70" y2="177.90" stroke="#1a1a1a" stroke-width="1.2" stroke-linecap="butt"/>
<circle cx="362.15" cy="173.70" r="1.3" fill="#1a1a1a"/>
<circle cx="365.65" cy="173.70" r="1.3" fill="#1a1a1a"/>
<line x1="373.90" y1="173.30" x2="385.50" y2="173.30" stroke="#1a1a1a" stroke-width="1.2" stroke-linecap="butt"/>
<circle cx="379.70" cy="169.10" r="1.3" fill="#1a1a1a"/>
<line x1="390.80" y1="190.70" x2="402.90" y2="190.70" stroke="#1a1a1a" stroke-width="1.2" stroke-linecap="butt"/>
<circle cx="396.85" cy="186.50" r="1.3" fill="#1a1a1a"/>
<circle cx="366.10" cy="231.60" r="3.1" fill="#2d4a87"/>
<circle cx="366.10" cy="241.00" r="3.1" fill="#ad1538"/>
<text x="373.50" y="234.30" font-size="8.64" textLength="12.20" lengthAdjust="spacingAndGlyphs" stroke="#2a2a2a" stroke-width="0.12">+/+</text>
<text x="373.00" y="243.40" font-size="8.64" textLength="11.10" lengthAdjust="spacingAndGlyphs" font-style="italic" stroke="#2a2a2a" stroke-width="0.12">F/F</text>
<text x="0" y="0" font-size="9.6" textLength="41.80" lengthAdjust="spacingAndGlyphs" text-anchor="middle" stroke="#2a2a2a" stroke-width="0.12" transform="translate(337.00,203.20) rotate(-90)">Cell number</text>
<text x="421.30" y="141.40" font-size="11.0" textLength="7.10" lengthAdjust="spacingAndGlyphs" font-weight="bold" fill="#000" stroke="#000" stroke-width="0.5">E</text>
<text x="454.50" y="152.80" font-size="10.44" textLength="58.40" lengthAdjust="spacingAndGlyphs" stroke="#2a2a2a" stroke-width="0.12">Bone marrow</text>
<line x1="454.90" y1="160.80" x2="454.90" y2="245.90" stroke="#111" stroke-width="1.2" stroke-linecap="butt"/>
<line x1="454.40" y1="245.40" x2="511.50" y2="245.40" stroke="#111" stroke-width="1.2" stroke-linecap="butt"/>
<line x1="451.90" y1="245.40" x2="454.90" y2="245.40" stroke="#111" stroke-width="1" stroke-linecap="butt"/>
<text x="450.20" y="248.00" font-size="8.88" text-anchor="end" stroke="#2a2a2a" stroke-width="0.12">10<tspan font-size="5.6" dy="-3.3">3</tspan></text>
<line x1="453.30" y1="239.29" x2="454.90" y2="239.29" stroke="#111" stroke-width="0.7" stroke-linecap="butt"/>
<line x1="453.30" y1="235.71" x2="454.90" y2="235.71" stroke="#111" stroke-width="0.7" stroke-linecap="butt"/>
<line x1="453.30" y1="233.18" x2="454.90" y2="233.18" stroke="#111" stroke-width="0.7" stroke-linecap="butt"/>
<line x1="453.30" y1="231.21" x2="454.90" y2="231.21" stroke="#111" stroke-width="0.7" stroke-linecap="butt"/>
<line x1="453.30" y1="229.60" x2="454.90" y2="229.60" stroke="#111" stroke-width="0.7" stroke-linecap="butt"/>
<line x1="453.30" y1="228.24" x2="454.90" y2="228.24" stroke="#111" stroke-width="0.7" stroke-linecap="butt"/>
<line x1="453.30" y1="227.07" x2="454.90" y2="227.07" stroke="#111" stroke-width="0.7" stroke-linecap="butt"/>
<line x1="453.30" y1="226.03" x2="454.90" y2="226.03" stroke="#111" stroke-width="0.7" stroke-linecap="butt"/>
<line x1="451.90" y1="225.10" x2="454.90" y2="225.10" stroke="#111" stroke-width="1" stroke-linecap="butt"/>
<text x="450.20" y="227.70" font-size="8.88" text-anchor="end" stroke="#2a2a2a" stroke-width="0.12">10<tspan font-size="5.6" dy="-3.3">4</tspan></text>
<line x1="453.30" y1="218.99" x2="454.90" y2="218.99" stroke="#111" stroke-width="0.7" stroke-linecap="butt"/>
<line x1="453.30" y1="215.41" x2="454.90" y2="215.41" stroke="#111" stroke-width="0.7" stroke-linecap="butt"/>
<line x1="453.30" y1="212.88" x2="454.90" y2="212.88" stroke="#111" stroke-width="0.7" stroke-linecap="butt"/>
<line x1="453.30" y1="210.91" x2="454.90" y2="210.91" stroke="#111" stroke-width="0.7" stroke-linecap="butt"/>
<line x1="453.30" y1="209.30" x2="454.90" y2="209.30" stroke="#111" stroke-width="0.7" stroke-linecap="butt"/>
<line x1="453.30" y1="207.94" x2="454.90" y2="207.94" stroke="#111" stroke-width="0.7" stroke-linecap="butt"/>
<line x1="453.30" y1="206.77" x2="454.90" y2="206.77" stroke="#111" stroke-width="0.7" stroke-linecap="butt"/>
<line x1="453.30" y1="205.73" x2="454.90" y2="205.73" stroke="#111" stroke-width="0.7" stroke-linecap="butt"/>
<line x1="451.90" y1="204.80" x2="454.90" y2="204.80" stroke="#111" stroke-width="1" stroke-linecap="butt"/>
<text x="450.20" y="207.40" font-size="8.88" text-anchor="end" stroke="#2a2a2a" stroke-width="0.12">10<tspan font-size="5.6" dy="-3.3">5</tspan></text>
<line x1="453.30" y1="198.69" x2="454.90" y2="198.69" stroke="#111" stroke-width="0.7" stroke-linecap="butt"/>
<line x1="453.30" y1="195.11" x2="454.90" y2="195.11" stroke="#111" stroke-width="0.7" stroke-linecap="butt"/>
<line x1="453.30" y1="192.58" x2="454.90" y2="192.58" stroke="#111" stroke-width="0.7" stroke-linecap="butt"/>
<line x1="453.30" y1="190.61" x2="454.90" y2="190.61" stroke="#111" stroke-width="0.7" stroke-linecap="butt"/>
<line x1="453.30" y1="189.00" x2="454.90" y2="189.00" stroke="#111" stroke-width="0.7" stroke-linecap="butt"/>
<line x1="453.30" y1="187.64" x2="454.90" y2="187.64" stroke="#111" stroke-width="0.7" stroke-linecap="butt"/>
<line x1="453.30" y1="186.47" x2="454.90" y2="186.47" stroke="#111" stroke-width="0.7" stroke-linecap="butt"/>
<line x1="453.30" y1="185.43" x2="454.90" y2="185.43" stroke="#111" stroke-width="0.7" stroke-linecap="butt"/>
<line x1="451.90" y1="184.50" x2="454.90" y2="184.50" stroke="#111" stroke-width="1" stroke-linecap="butt"/>
<text x="450.20" y="187.10" font-size="8.88" text-anchor="end" stroke="#2a2a2a" stroke-width="0.12">10<tspan font-size="5.6" dy="-3.3">6</tspan></text>
<line x1="453.30" y1="178.39" x2="454.90" y2="178.39" stroke="#111" stroke-width="0.7" stroke-linecap="butt"/>
<line x1="453.30" y1="174.81" x2="454.90" y2="174.81" stroke="#111" stroke-width="0.7" stroke-linecap="butt"/>
<line x1="453.30" y1="172.28" x2="454.90" y2="172.28" stroke="#111" stroke-width="0.7" stroke-linecap="butt"/>
<line x1="453.30" y1="170.31" x2="454.90" y2="170.31" stroke="#111" stroke-width="0.7" stroke-linecap="butt"/>
<line x1="453.30" y1="168.70" x2="454.90" y2="168.70" stroke="#111" stroke-width="0.7" stroke-linecap="butt"/>
<line x1="453.30" y1="167.34" x2="454.90" y2="167.34" stroke="#111" stroke-width="0.7" stroke-linecap="butt"/>
<line x1="453.30" y1="166.17" x2="454.90" y2="166.17" stroke="#111" stroke-width="0.7" stroke-linecap="butt"/>
<line x1="453.30" y1="165.13" x2="454.90" y2="165.13" stroke="#111" stroke-width="0.7" stroke-linecap="butt"/>
<line x1="451.90" y1="164.20" x2="454.90" y2="164.20" stroke="#111" stroke-width="1" stroke-linecap="butt"/>
<text x="450.20" y="166.80" font-size="8.88" text-anchor="end" stroke="#2a2a2a" stroke-width="0.12">10<tspan font-size="5.6" dy="-3.3">7</tspan></text>
<line x1="459.00" y1="245.40" x2="459.00" y2="248.00" stroke="#111" stroke-width="1" stroke-linecap="butt"/>
<line x1="465.60" y1="245.40" x2="465.60" y2="248.00" stroke="#111" stroke-width="1" stroke-linecap="butt"/>
<line x1="472.30" y1="245.40" x2="472.30" y2="248.00" stroke="#111" stroke-width="1" stroke-linecap="butt"/>
<line x1="479.20" y1="245.40" x2="479.20" y2="248.00" stroke="#111" stroke-width="1" stroke-linecap="butt"/>
<line x1="485.90" y1="245.40" x2="485.90" y2="248.00" stroke="#111" stroke-width="1" stroke-linecap="butt"/>
<line x1="492.50" y1="245.40" x2="492.50" y2="248.00" stroke="#111" stroke-width="1" stroke-linecap="butt"/>
<line x1="499.40" y1="245.40" x2="499.40" y2="248.00" stroke="#111" stroke-width="1" stroke-linecap="butt"/>
<line x1="505.70" y1="245.40" x2="505.70" y2="248.00" stroke="#111" stroke-width="1" stroke-linecap="butt"/>
<text x="461.30" y="165.50" font-size="8.28" textLength="6.40" lengthAdjust="spacingAndGlyphs" stroke="#2a2a2a" stroke-width="0.12">LT</text>
<text x="476.90" y="165.50" font-size="8.28" textLength="8.10" lengthAdjust="spacingAndGlyphs" stroke="#2a2a2a" stroke-width="0.12">ST</text>
<text x="493.70" y="165.50" font-size="8.28" textLength="15.00" lengthAdjust="spacingAndGlyphs" stroke="#2a2a2a" stroke-width="0.12">MPP</text>
<circle cx="456.40" cy="216.30" r="2.3" fill="#2d4a87" stroke="#fff" stroke-opacity="0.6" stroke-width="0.4"/>
<circle cx="461.40" cy="217.50" r="2.3" fill="#2d4a87" stroke="#fff" stroke-opacity="0.6" stroke-width="0.4"/>
<circle cx="457.50" cy="220.50" r="2.3" fill="#2d4a87" stroke="#fff" stroke-opacity="0.6" stroke-width="0.4"/>
<circle cx="460.00" cy="222.50" r="2.3" fill="#2d4a87" stroke="#fff" stroke-opacity="0.6" stroke-width="0.4"/>
<circle cx="459.50" cy="225.00" r="2.3" fill="#2d4a87" stroke="#fff" stroke-opacity="0.6" stroke-width="0.4"/>
<circle cx="455.80" cy="226.90" r="2.3" fill="#2d4a87" stroke="#fff" stroke-opacity="0.6" stroke-width="0.4"/>
<circle cx="458.90" cy="228.80" r="2.3" fill="#2d4a87" stroke="#fff" stroke-opacity="0.6" stroke-width="0.4"/>
<circle cx="461.50" cy="228.00" r="2.3" fill="#2d4a87" stroke="#fff" stroke-opacity="0.6" stroke-width="0.4"/>
<circle cx="457.00" cy="231.50" r="2.3" fill="#2d4a87" stroke="#fff" stroke-opacity="0.6" stroke-width="0.4"/>
<circle cx="458.90" cy="236.30" r="2.3" fill="#2d4a87" stroke="#fff" stroke-opacity="0.6" stroke-width="0.4"/>
<circle cx="478.90" cy="204.40" r="2.3" fill="#2d4a87" stroke="#fff" stroke-opacity="0.6" stroke-width="0.4"/>
<circle cx="477.00" cy="208.00" r="2.3" fill="#2d4a87" stroke="#fff" stroke-opacity="0.6" stroke-width="0.4"/>
<circle cx="479.80" cy="209.50" r="2.3" fill="#2d4a87" stroke="#fff" stroke-opacity="0.6" stroke-width="0.4"/>
<circle cx="477.00" cy="210.50" r="2.3" fill="#2d4a87" stroke="#fff" stroke-opacity="0.6" stroke-width="0.4"/>
<circle cx="475.80" cy="213.80" r="2.3" fill="#2d4a87" stroke="#fff" stroke-opacity="0.6" stroke-width="0.4"/>
<circle cx="478.50" cy="213.50" r="2.3" fill="#2d4a87" stroke="#fff" stroke-opacity="0.6" stroke-width="0.4"/>
<circle cx="480.80" cy="215.00" r="2.3" fill="#2d4a87" stroke="#fff" stroke-opacity="0.6" stroke-width="0.4"/>
<circle cx="482.50" cy="213.00" r="2.3" fill="#2d4a87" stroke="#fff" stroke-opacity="0.6" stroke-width="0.4"/>
<circle cx="477.50" cy="216.50" r="2.3" fill="#2d4a87" stroke="#fff" stroke-opacity="0.6" stroke-width="0.4"/>
<circle cx="479.50" cy="219.40" r="2.3" fill="#2d4a87" stroke="#fff" stroke-opacity="0.6" stroke-width="0.4"/>
<circle cx="499.50" cy="211.30" r="2.3" fill="#2d4a87" stroke="#fff" stroke-opacity="0.6" stroke-width="0.4"/>
<circle cx="497.00" cy="214.00" r="2.3" fill="#2d4a87" stroke="#fff" stroke-opacity="0.6" stroke-width="0.4"/>
<circle cx="501.50" cy="214.00" r="2.3" fill="#2d4a87" stroke="#fff" stroke-opacity="0.6" stroke-width="0.4"/>
<circle cx="497.00" cy="216.90" r="2.3" fill="#2d4a87" stroke="#fff" stroke-opacity="0.6" stroke-width="0.4"/>
<circle cx="500.00" cy="217.00" r="2.3" fill="#2d4a87" stroke="#fff" stroke-opacity="0.6" stroke-width="0.4"/>
<circle cx="502.50" cy="217.50" r="2.3" fill="#2d4a87" stroke="#fff" stroke-opacity="0.6" stroke-width="0.4"/>
<circle cx="498.30" cy="220.00" r="2.3" fill="#2d4a87" stroke="#fff" stroke-opacity="0.6" stroke-width="0.4"/>
<circle cx="501.00" cy="220.50" r="2.3" fill="#2d4a87" stroke="#fff" stroke-opacity="0.6" stroke-width="0.4"/>
<circle cx="499.50" cy="224.40" r="2.3" fill="#2d4a87" stroke="#fff" stroke-opacity="0.6" stroke-width="0.4"/>
<circle cx="463.30" cy="218.00" r="2.3" fill="#ad1538" stroke="#fff" stroke-opacity="0.6" stroke-width="0.4"/>
<circle cx="466.50" cy="218.00" r="2.3" fill="#ad1538" stroke="#fff" stroke-opacity="0.6" stroke-width="0.4"/>
<circle cx="469.50" cy="219.00" r="2.3" fill="#ad1538" stroke="#fff" stroke-opacity="0.6" stroke-width="0.4"/>
<circle cx="464.50" cy="221.00" r="2.3" fill="#ad1538" stroke="#fff" stroke-opacity="0.6" stroke-width="0.4"/>
<circle cx="468.00" cy="221.50" r="2.3" fill="#ad1538" stroke="#fff" stroke-opacity="0.6" stroke-width="0.4"/>
<circle cx="463.50" cy="224.00" r="2.3" fill="#ad1538" stroke="#fff" stroke-opacity="0.6" stroke-width="0.4"/>
<circle cx="467.00" cy="224.50" r="2.3" fill="#ad1538" stroke="#fff" stroke-opacity="0.6" stroke-width="0.4"/>
<circle cx="470.00" cy="224.00" r="2.3" fill="#ad1538" stroke="#fff" stroke-opacity="0.6" stroke-width="0.4"/>
<circle cx="465.80" cy="228.80" r="2.3" fill="#ad1538" stroke="#fff" stroke-opacity="0.6" stroke-width="0.4"/>
<circle cx="468.50" cy="228.50" r="2.3" fill="#ad1538" stroke="#fff" stroke-opacity="0.6" stroke-width="0.4"/>
<circle cx="464.50" cy="232.50" r="2.3" fill="#ad1538" stroke="#fff" stroke-opacity="0.6" stroke-width="0.4"/>
<circle cx="463.30" cy="236.30" r="2.3" fill="#ad1538" stroke="#fff" stroke-opacity="0.6" stroke-width="0.4"/>
<circle cx="467.00" cy="238.80" r="2.3" fill="#ad1538" stroke="#fff" stroke-opacity="0.6" stroke-width="0.4"/>
<circle cx="469.50" cy="239.00" r="2.3" fill="#ad1538" stroke="#fff" stroke-opacity="0.6" stroke-width="0.4"/>
<circle cx="483.30" cy="200.00" r="2.3" fill="#ad1538" stroke="#fff" stroke-opacity="0.6" stroke-width="0.4"/>
<circle cx="486.00" cy="199.50" r="2.3" fill="#ad1538" stroke="#fff" stroke-opacity="0.6" stroke-width="0.4"/>
<circle cx="488.30" cy="200.00" r="2.3" fill="#ad1538" stroke="#fff" stroke-opacity="0.6" stroke-width="0.4"/>
<circle cx="484.50" cy="203.00" r="2.3" fill="#ad1538" stroke="#fff" stroke-opacity="0.6" stroke-width="0.4"/>
<circle cx="487.50" cy="203.50" r="2.3" fill="#ad1538" stroke="#fff" stroke-opacity="0.6" stroke-width="0.4"/>
<circle cx="484.50" cy="206.30" r="2.3" fill="#ad1538" stroke="#fff" stroke-opacity="0.6" stroke-width="0.4"/>
<circle cx="488.30" cy="207.50" r="2.3" fill="#ad1538" stroke="#fff" stroke-opacity="0.6" stroke-width="0.4"/>
<circle cx="486.00" cy="209.00" r="2.3" fill="#ad1538" stroke="#fff" stroke-opacity="0.6" stroke-width="0.4"/>
<circle cx="489.50" cy="210.60" r="2.3" fill="#ad1538" stroke="#fff" stroke-opacity="0.6" stroke-width="0.4"/>
<circle cx="485.80" cy="214.40" r="2.3" fill="#ad1538" stroke="#fff" stroke-opacity="0.6" stroke-width="0.4"/>
<circle cx="504.50" cy="202.50" r="2.3" fill="#ad1538" stroke="#fff" stroke-opacity="0.6" stroke-width="0.4"/>
<circle cx="506.80" cy="202.00" r="2.3" fill="#ad1538" stroke="#fff" stroke-opacity="0.6" stroke-width="0.4"/>
<circle cx="508.90" cy="203.10" r="2.3" fill="#ad1538" stroke="#fff" stroke-opacity="0.6" stroke-width="0.4"/>
<circle cx="505.50" cy="205.00" r="2.3" fill="#ad1538" stroke="#fff" stroke-opacity="0.6" stroke-width="0.4"/>
<circle cx="507.00" cy="206.30" r="2.3" fill="#ad1538" stroke="#fff" stroke-opacity="0.6" stroke-width="0.4"/>
<circle cx="509.50" cy="206.90" r="2.3" fill="#ad1538" stroke="#fff" stroke-opacity="0.6" stroke-width="0.4"/>
<circle cx="503.90" cy="211.30" r="2.3" fill="#ad1538" stroke="#fff" stroke-opacity="0.6" stroke-width="0.4"/>
<circle cx="506.50" cy="211.00" r="2.3" fill="#ad1538" stroke="#fff" stroke-opacity="0.6" stroke-width="0.4"/>
<circle cx="507.00" cy="218.10" r="2.3" fill="#ad1538" stroke="#fff" stroke-opacity="0.6" stroke-width="0.4"/>
<circle cx="509.50" cy="218.10" r="2.3" fill="#ad1538" stroke="#fff" stroke-opacity="0.6" stroke-width="0.4"/>
<line x1="454.80" y1="225.50" x2="462.00" y2="225.50" stroke="#222" stroke-width="0.7" stroke-linecap="butt"/>
<line x1="462.50" y1="224.50" x2="470.00" y2="224.50" stroke="#222" stroke-width="0.7" stroke-linecap="butt"/>
<line x1="474.50" y1="212.00" x2="482.00" y2="212.00" stroke="#222" stroke-width="0.7" stroke-linecap="butt"/>
<line x1="481.50" y1="204.40" x2="490.50" y2="204.40" stroke="#222" stroke-width="0.7" stroke-linecap="butt"/>
<line x1="494.50" y1="216.50" x2="502.00" y2="216.50" stroke="#222" stroke-width="0.7" stroke-linecap="butt"/>
<line x1="502.00" y1="207.00" x2="510.50" y2="207.00" stroke="#222" stroke-width="0.7" stroke-linecap="butt"/>
<line x1="477.00" y1="193.50" x2="485.50" y2="193.50" stroke="#1a1a1a" stroke-width="1.2" stroke-linecap="butt"/>
<circle cx="479.50" cy="189.30" r="1.3" fill="#1a1a1a"/>
<circle cx="483.00" cy="189.30" r="1.3" fill="#1a1a1a"/>
<line x1="497.80" y1="193.50" x2="506.30" y2="193.50" stroke="#1a1a1a" stroke-width="1.2" stroke-linecap="butt"/>
<circle cx="498.55" cy="189.30" r="1.3" fill="#1a1a1a"/>
<circle cx="502.05" cy="189.30" r="1.3" fill="#1a1a1a"/>
<circle cx="505.55" cy="189.30" r="1.3" fill="#1a1a1a"/>
<circle cx="490.80" cy="231.20" r="3.1" fill="#2d4a87"/>
<circle cx="490.80" cy="241.00" r="3.1" fill="#ad1538"/>
<text x="498.30" y="233.80" font-size="8.64" textLength="10.90" lengthAdjust="spacingAndGlyphs" stroke="#2a2a2a" stroke-width="0.12">+/+</text>
<text x="497.70" y="243.40" font-size="8.64" textLength="10.90" lengthAdjust="spacingAndGlyphs" font-style="italic" stroke="#2a2a2a" stroke-width="0.12">F/F</text>
<text x="0" y="0" font-size="9.6" textLength="41.80" lengthAdjust="spacingAndGlyphs" text-anchor="middle" stroke="#2a2a2a" stroke-width="0.12" transform="translate(434.50,203.20) rotate(-90)">Cell number</text>
<text x="7.50" y="298.30" font-size="11.0" textLength="5.80" lengthAdjust="spacingAndGlyphs" font-weight="bold" fill="#000" stroke="#000" stroke-width="0.5">F</text>
<line x1="49.60" y1="313.50" x2="49.60" y2="400.30" stroke="#111" stroke-width="1.2" stroke-linecap="butt"/>
<line x1="49.10" y1="399.80" x2="89.00" y2="399.80" stroke="#111" stroke-width="1.2" stroke-linecap="butt"/>
<line x1="46.60" y1="399.80" x2="49.60" y2="399.80" stroke="#111" stroke-width="1" stroke-linecap="butt"/>
<text x="43.60" y="402.40" font-size="9.0" text-anchor="end" stroke="#2a2a2a" stroke-width="0.12">0</text>
<line x1="46.60" y1="379.00" x2="49.60" y2="379.00" stroke="#111" stroke-width="1" stroke-linecap="butt"/>
<text x="43.60" y="381.60" font-size="9.0" text-anchor="end" stroke="#2a2a2a" stroke-width="0.12">5</text>
<line x1="46.60" y1="358.20" x2="49.60" y2="358.20" stroke="#111" stroke-width="1" stroke-linecap="butt"/>
<text x="43.60" y="360.80" font-size="9.0" text-anchor="end" stroke="#2a2a2a" stroke-width="0.12">10</text>
<line x1="46.60" y1="337.40" x2="49.60" y2="337.40" stroke="#111" stroke-width="1" stroke-linecap="butt"/>
<text x="43.60" y="340.00" font-size="9.0" text-anchor="end" stroke="#2a2a2a" stroke-width="0.12">15</text>
<line x1="46.60" y1="316.60" x2="49.60" y2="316.60" stroke="#111" stroke-width="1" stroke-linecap="butt"/>
<text x="43.60" y="319.20" font-size="9.0" text-anchor="end" stroke="#2a2a2a" stroke-width="0.12">20</text>
<line x1="48.00" y1="389.40" x2="49.60" y2="389.40" stroke="#111" stroke-width="0.8" stroke-linecap="butt"/>
<line x1="48.00" y1="368.60" x2="49.60" y2="368.60" stroke="#111" stroke-width="0.8" stroke-linecap="butt"/>
<line x1="48.00" y1="347.80" x2="49.60" y2="347.80" stroke="#111" stroke-width="0.8" stroke-linecap="butt"/>
<line x1="48.00" y1="327.00" x2="49.60" y2="327.00" stroke="#111" stroke-width="0.8" stroke-linecap="butt"/>
<line x1="59.80" y1="399.80" x2="59.80" y2="402.60" stroke="#111" stroke-width="1" stroke-linecap="butt"/>
<line x1="79.70" y1="399.80" x2="79.70" y2="402.60" stroke="#111" stroke-width="1" stroke-linecap="butt"/>
<circle cx="57.50" cy="382.00" r="2.2" fill="#2d4a87" stroke="#fff" stroke-opacity="0.6" stroke-width="0.4"/>
<circle cx="61.00" cy="381.50" r="2.2" fill="#2d4a87" stroke="#fff" stroke-opacity="0.6" stroke-width="0.4"/>
<circle cx="59.00" cy="385.00" r="2.2" fill="#2d4a87" stroke="#fff" stroke-opacity="0.6" stroke-width="0.4"/>
<circle cx="62.50" cy="386.00" r="2.2" fill="#2d4a87" stroke="#fff" stroke-opacity="0.6" stroke-width="0.4"/>
<circle cx="57.00" cy="388.50" r="2.2" fill="#2d4a87" stroke="#fff" stroke-opacity="0.6" stroke-width="0.4"/>
<circle cx="60.50" cy="389.50" r="2.2" fill="#2d4a87" stroke="#fff" stroke-opacity="0.6" stroke-width="0.4"/>
<circle cx="63.00" cy="390.50" r="2.2" fill="#2d4a87" stroke="#fff" stroke-opacity="0.6" stroke-width="0.4"/>
<circle cx="58.50" cy="392.50" r="2.2" fill="#2d4a87" stroke="#fff" stroke-opacity="0.6" stroke-width="0.4"/>
<circle cx="61.50" cy="393.50" r="2.2" fill="#2d4a87" stroke="#fff" stroke-opacity="0.6" stroke-width="0.4"/>
<circle cx="59.50" cy="351.50" r="2.2" fill="#2d4a87" stroke="#fff" stroke-opacity="0.6" stroke-width="0.4"/>
<circle cx="77.00" cy="359.00" r="2.2" fill="#ad1538" stroke="#fff" stroke-opacity="0.6" stroke-width="0.4"/>
<circle cx="80.50" cy="360.00" r="2.2" fill="#ad1538" stroke="#fff" stroke-opacity="0.6" stroke-width="0.4"/>
<circle cx="78.00" cy="363.50" r="2.2" fill="#ad1538" stroke="#fff" stroke-opacity="0.6" stroke-width="0.4"/>
<circle cx="81.50" cy="365.00" r="2.2" fill="#ad1538" stroke="#fff" stroke-opacity="0.6" stroke-width="0.4"/>
<circle cx="76.50" cy="368.00" r="2.2" fill="#ad1538" stroke="#fff" stroke-opacity="0.6" stroke-width="0.4"/>
<circle cx="80.00" cy="369.50" r="2.2" fill="#ad1538" stroke="#fff" stroke-opacity="0.6" stroke-width="0.4"/>
<circle cx="82.50" cy="371.00" r="2.2" fill="#ad1538" stroke="#fff" stroke-opacity="0.6" stroke-width="0.4"/>
<circle cx="77.50" cy="373.00" r="2.2" fill="#ad1538" stroke="#fff" stroke-opacity="0.6" stroke-width="0.4"/>
<circle cx="80.50" cy="375.50" r="2.2" fill="#ad1538" stroke="#fff" stroke-opacity="0.6" stroke-width="0.4"/>
<circle cx="78.00" cy="378.50" r="2.2" fill="#ad1538" stroke="#fff" stroke-opacity="0.6" stroke-width="0.4"/>
<circle cx="81.00" cy="380.00" r="2.2" fill="#ad1538" stroke="#fff" stroke-opacity="0.6" stroke-width="0.4"/>
<circle cx="78.80" cy="386.50" r="2.2" fill="#ad1538" stroke="#fff" stroke-opacity="0.6" stroke-width="0.4"/>
<circle cx="79.30" cy="325.70" r="2.2" fill="#ad1538" stroke="#fff" stroke-opacity="0.6" stroke-width="0.4"/>
<line x1="59.80" y1="374.40" x2="59.80" y2="396.90" stroke="#2d4a87" stroke-width="1" stroke-linecap="butt"/>
<line x1="55.50" y1="374.40" x2="64.50" y2="374.40" stroke="#2d4a87" stroke-width="1" stroke-linecap="butt"/>
<line x1="55.50" y1="396.90" x2="64.50" y2="396.90" stroke="#2d4a87" stroke-width="1" stroke-linecap="butt"/>
<line x1="79.50" y1="353.70" x2="79.50" y2="383.80" stroke="#ad1538" stroke-width="1" stroke-linecap="butt"/>
<line x1="75.50" y1="353.70" x2="84.00" y2="353.70" stroke="#ad1538" stroke-width="1" stroke-linecap="butt"/>
<line x1="75.50" y1="383.80" x2="84.00" y2="383.80" stroke="#ad1538" stroke-width="1" stroke-linecap="butt"/>
<line x1="53.60" y1="385.80" x2="66.10" y2="385.80" stroke="#111" stroke-width="1.3" stroke-linecap="butt"/>
<line x1="72.60" y1="368.50" x2="85.70" y2="368.50" stroke="#111" stroke-width="1.3" stroke-linecap="butt"/>
<line x1="60.20" y1="320.50" x2="78.80" y2="320.50" stroke="#1a1a1a" stroke-width="1.2" stroke-linecap="butt"/>
<circle cx="67.75" cy="316.30" r="1.3" fill="#1a1a1a"/>
<circle cx="71.25" cy="316.30" r="1.3" fill="#1a1a1a"/>
<text x="53.40" y="412.90" font-size="9.12" textLength="13.30" lengthAdjust="spacingAndGlyphs" stroke="#2a2a2a" stroke-width="0.12">+/+</text>
<text x="72.80" y="412.90" font-size="9.12" textLength="12.90" lengthAdjust="spacingAndGlyphs" font-style="italic" stroke="#2a2a2a" stroke-width="0.12">F/F</text>
<text x="0" y="0" font-size="9.84" textLength="64.30" lengthAdjust="spacingAndGlyphs" text-anchor="middle" stroke="#2a2a2a" stroke-width="0.12" transform="translate(29.20,356.40) rotate(-90)">KSL in Lin<tspan font-size="4.6" dy="-2.8">-</tspan><tspan dy="2.8"> cells [%]</tspan></text>
<text x="104.60" y="298.40" font-size="11.0" textLength="8.70" lengthAdjust="spacingAndGlyphs" font-weight="bold" fill="#000" stroke="#000" stroke-width="0.5">G</text>
<text x="146.20" y="305.60" font-size="10.44" textLength="55.70" lengthAdjust="spacingAndGlyphs" stroke="#2a2a2a" stroke-width="0.12">Colonies, 7w</text>
<line x1="147.30" y1="314.80" x2="147.30" y2="400.00" stroke="#111" stroke-width="1.2" stroke-linecap="butt"/>
<line x1="146.80" y1="399.50" x2="201.00" y2="399.50" stroke="#111" stroke-width="1.2" stroke-linecap="butt"/>
<line x1="144.30" y1="399.50" x2="147.30" y2="399.50" stroke="#111" stroke-width="1" stroke-linecap="butt"/>
<text x="141.20" y="402.10" font-size="9.0" text-anchor="end" stroke="#2a2a2a" stroke-width="0.12">0</text>
<line x1="144.30" y1="382.84" x2="147.30" y2="382.84" stroke="#111" stroke-width="1" stroke-linecap="butt"/>
<text x="141.20" y="385.44" font-size="9.0" text-anchor="end" stroke="#2a2a2a" stroke-width="0.12">20</text>
<line x1="144.30" y1="366.18" x2="147.30" y2="366.18" stroke="#111" stroke-width="1" stroke-linecap="butt"/>
<text x="141.20" y="368.78" font-size="9.0" text-anchor="end" stroke="#2a2a2a" stroke-width="0.12">40</text>
<line x1="144.30" y1="349.52" x2="147.30" y2="349.52" stroke="#111" stroke-width="1" stroke-linecap="butt"/>
<text x="141.20" y="352.12" font-size="9.0" text-anchor="end" stroke="#2a2a2a" stroke-width="0.12">60</text>
<line x1="144.30" y1="332.86" x2="147.30" y2="332.86" stroke="#111" stroke-width="1" stroke-linecap="butt"/>
<text x="141.20" y="335.46" font-size="9.0" text-anchor="end" stroke="#2a2a2a" stroke-width="0.12">80</text>
<line x1="144.30" y1="316.20" x2="147.30" y2="316.20" stroke="#111" stroke-width="1" stroke-linecap="butt"/>
<text x="141.20" y="318.80" font-size="9.0" text-anchor="end" stroke="#2a2a2a" stroke-width="0.12">100</text>
<line x1="145.70" y1="391.17" x2="147.30" y2="391.17" stroke="#111" stroke-width="0.8" stroke-linecap="butt"/>
<line x1="145.70" y1="374.51" x2="147.30" y2="374.51" stroke="#111" stroke-width="0.8" stroke-linecap="butt"/>
<line x1="145.70" y1="357.85" x2="147.30" y2="357.85" stroke="#111" stroke-width="0.8" stroke-linecap="butt"/>
<line x1="145.70" y1="341.19" x2="147.30" y2="341.19" stroke="#111" stroke-width="0.8" stroke-linecap="butt"/>
<line x1="145.70" y1="324.53" x2="147.30" y2="324.53" stroke="#111" stroke-width="0.8" stroke-linecap="butt"/>
<line x1="161.40" y1="399.50" x2="161.40" y2="402.30" stroke="#111" stroke-width="1" stroke-linecap="butt"/>
<line x1="188.60" y1="399.50" x2="188.60" y2="402.30" stroke="#111" stroke-width="1" stroke-linecap="butt"/>
<rect x="151.50" y="396.58" width="19.20" height="2.92" fill="#b2133a"/>
<rect x="151.50" y="378.68" width="19.20" height="17.91" fill="#2b5093"/>
<rect x="151.50" y="369.51" width="19.20" height="9.16" fill="#68ad3f"/>
<rect x="151.50" y="343.69" width="19.20" height="25.82" fill="#53236b"/>
<rect x="151.50" y="341.44" width="19.20" height="2.25" fill="#e39a24"/>
<rect x="178.80" y="398.67" width="18.70" height="0.83" fill="#b2133a"/>
<rect x="178.80" y="389.09" width="18.70" height="9.58" fill="#2b5093"/>
<rect x="178.80" y="388.00" width="18.70" height="1.08" fill="#68ad3f"/>
<rect x="178.80" y="381.17" width="18.70" height="6.83" fill="#53236b"/>
<rect x="178.80" y="381.01" width="18.70" height="0.17" fill="#e39a24"/>
<line x1="161.40" y1="338.69" x2="161.40" y2="341.44" stroke="#111" stroke-width="1" stroke-linecap="butt"/>
<line x1="157.40" y1="338.69" x2="165.40" y2="338.69" stroke="#111" stroke-width="1.1" stroke-linecap="butt"/>
<line x1="157.90" y1="342.44" x2="164.90" y2="342.44" stroke="#111" stroke-width="1.1" stroke-linecap="butt"/>
<line x1="157.90" y1="367.43" x2="164.90" y2="367.43" stroke="#111" stroke-width="1.1" stroke-linecap="butt"/>
<line x1="157.90" y1="376.18" x2="164.90" y2="376.18" stroke="#111" stroke-width="1.1" stroke-linecap="butt"/>
<line x1="157.90" y1="396.75" x2="164.90" y2="396.75" stroke="#111" stroke-width="1.1" stroke-linecap="butt"/>
<line x1="161.40" y1="366.18" x2="161.40" y2="369.51" stroke="#111" stroke-width="1" stroke-linecap="butt"/>
<line x1="161.40" y1="375.34" x2="161.40" y2="378.68" stroke="#111" stroke-width="1" stroke-linecap="butt"/>
<line x1="188.60" y1="376.59" x2="188.60" y2="381.17" stroke="#111" stroke-width="1" stroke-linecap="butt"/>
<line x1="184.60" y1="376.59" x2="192.60" y2="376.59" stroke="#111" stroke-width="1.1" stroke-linecap="butt"/>
<line x1="185.10" y1="387.59" x2="192.10" y2="387.59" stroke="#111" stroke-width="1.1" stroke-linecap="butt"/>
<line x1="185.10" y1="398.50" x2="192.10" y2="398.50" stroke="#111" stroke-width="1.1" stroke-linecap="butt"/>
<rect x="176.40" y="314.90" width="7.20" height="7.20" fill="#e39a24"/>
<text x="187.80" y="320.90" font-size="9.12" textLength="33.80" lengthAdjust="spacingAndGlyphs" stroke="#2a2a2a" stroke-width="0.12">GEMM***</text>
<rect x="176.40" y="326.40" width="7.20" height="7.20" fill="#53236b"/>
<text x="187.80" y="332.40" font-size="9.12" textLength="19.50" lengthAdjust="spacingAndGlyphs" stroke="#2a2a2a" stroke-width="0.12">GM**</text>
<rect x="176.40" y="337.90" width="7.20" height="7.20" fill="#68ad3f"/>
<text x="187.80" y="343.90" font-size="9.12" textLength="16.50" lengthAdjust="spacingAndGlyphs" stroke="#2a2a2a" stroke-width="0.12">M***</text>
<rect x="176.40" y="349.40" width="7.20" height="7.20" fill="#2b5093"/>
<text x="187.80" y="355.40" font-size="9.12" textLength="14.80" lengthAdjust="spacingAndGlyphs" stroke="#2a2a2a" stroke-width="0.12">G***</text>
<rect x="176.40" y="360.90" width="7.20" height="7.20" fill="#b2133a"/>
<text x="187.80" y="366.90" font-size="9.12" textLength="31.50" lengthAdjust="spacingAndGlyphs" stroke="#2a2a2a" stroke-width="0.12">BFU-E***</text>
<text x="160.90" y="413.00" font-size="9.12" textLength="13.30" lengthAdjust="spacingAndGlyphs" text-anchor="middle" stroke="#2a2a2a" stroke-width="0.12">+/+</text>
<text x="188.80" y="413.00" font-size="9.12" textLength="12.70" lengthAdjust="spacingAndGlyphs" text-anchor="middle" font-style="italic" stroke="#2a2a2a" stroke-width="0.12">F/F</text>
<text x="0" y="0" font-size="9.96" textLength="88.50" lengthAdjust="spacingAndGlyphs" text-anchor="middle" stroke="#2a2a2a" stroke-width="0.12" transform="translate(122.70,357.00) rotate(-90)">Colonies per 10<tspan font-size="4.6" dy="-2.8">4</tspan><tspan dy="2.8"> BM cells</tspan></text>
<text x="238.50" y="298.30" font-size="11.0" textLength="7.90" lengthAdjust="spacingAndGlyphs" font-weight="bold" fill="#000" stroke="#000" stroke-width="0.5">H</text>
<text x="289.90" y="305.60" font-size="10.44" textLength="21.10" lengthAdjust="spacingAndGlyphs" stroke="#2a2a2a" stroke-width="0.12">PMN</text>
<line x1="274.60" y1="312.00" x2="274.60" y2="399.80" stroke="#111" stroke-width="1.2" stroke-linecap="butt"/>
<line x1="274.10" y1="399.30" x2="330.00" y2="399.30" stroke="#111" stroke-width="1.2" stroke-linecap="butt"/>
<line x1="271.60" y1="399.30" x2="274.60" y2="399.30" stroke="#111" stroke-width="1" stroke-linecap="butt"/>
<text x="268.00" y="401.90" font-size="9.0" text-anchor="end" stroke="#2a2a2a" stroke-width="0.12">0</text>
<line x1="271.60" y1="378.00" x2="274.60" y2="378.00" stroke="#111" stroke-width="1" stroke-linecap="butt"/>
<text x="268.00" y="380.60" font-size="9.0" text-anchor="end" stroke="#2a2a2a" stroke-width="0.12">20</text>
<line x1="271.60" y1="356.70" x2="274.60" y2="356.70" stroke="#111" stroke-width="1" stroke-linecap="butt"/>
<text x="268.00" y="359.30" font-size="9.0" text-anchor="end" stroke="#2a2a2a" stroke-width="0.12">40</text>
<line x1="271.60" y1="335.40" x2="274.60" y2="335.40" stroke="#111" stroke-width="1" stroke-linecap="butt"/>
<text x="268.00" y="338.00" font-size="9.0" text-anchor="end" stroke="#2a2a2a" stroke-width="0.12">60</text>
<line x1="271.60" y1="314.10" x2="274.60" y2="314.10" stroke="#111" stroke-width="1" stroke-linecap="butt"/>
<text x="268.00" y="316.70" font-size="9.0" text-anchor="end" stroke="#2a2a2a" stroke-width="0.12">80</text>
<line x1="273.00" y1="388.65" x2="274.60" y2="388.65" stroke="#111" stroke-width="0.8" stroke-linecap="butt"/>
<line x1="273.00" y1="367.35" x2="274.60" y2="367.35" stroke="#111" stroke-width="0.8" stroke-linecap="butt"/>
<line x1="273.00" y1="346.05" x2="274.60" y2="346.05" stroke="#111" stroke-width="0.8" stroke-linecap="butt"/>
<line x1="273.00" y1="324.75" x2="274.60" y2="324.75" stroke="#111" stroke-width="0.8" stroke-linecap="butt"/>
<line x1="281.20" y1="399.30" x2="281.20" y2="400.90" stroke="#111" stroke-width="0.8" stroke-linecap="butt"/>
<line x1="294.40" y1="399.30" x2="294.40" y2="400.90" stroke="#111" stroke-width="0.8" stroke-linecap="butt"/>
<line x1="307.60" y1="399.30" x2="307.60" y2="400.90" stroke="#111" stroke-width="0.8" stroke-linecap="butt"/>
<line x1="320.80" y1="399.30" x2="320.80" y2="400.90" stroke="#111" stroke-width="0.8" stroke-linecap="butt"/>
<line x1="274.60" y1="399.30" x2="274.60" y2="401.90" stroke="#111" stroke-width="1" stroke-linecap="butt"/>
<text x="274.60" y="412.70" font-size="8.64" text-anchor="middle" stroke="#2a2a2a" stroke-width="0.12">0</text>
<line x1="287.80" y1="399.30" x2="287.80" y2="401.90" stroke="#111" stroke-width="1" stroke-linecap="butt"/>
<text x="287.80" y="412.70" font-size="8.64" text-anchor="middle" stroke="#2a2a2a" stroke-width="0.12">4</text>
<line x1="301.00" y1="399.30" x2="301.00" y2="401.90" stroke="#111" stroke-width="1" stroke-linecap="butt"/>
<text x="301.00" y="412.70" font-size="8.64" text-anchor="middle" stroke="#2a2a2a" stroke-width="0.12">8</text>
<line x1="314.20" y1="399.30" x2="314.20" y2="401.90" stroke="#111" stroke-width="1" stroke-linecap="butt"/>
<text x="314.20" y="412.70" font-size="8.64" text-anchor="middle" stroke="#2a2a2a" stroke-width="0.12">12</text>
<line x1="327.40" y1="399.30" x2="327.40" y2="401.90" stroke="#111" stroke-width="1" stroke-linecap="butt"/>
<text x="327.40" y="412.70" font-size="8.64" text-anchor="middle" stroke="#2a2a2a" stroke-width="0.12">16</text>
<polyline points="287.80,393.98 301.00,396.11 314.20,397.17 327.40,396.11" fill="none" stroke="#ad1538" stroke-width="1.5"/>
<polyline points="287.80,396.11 301.00,397.17 314.20,398.24 327.40,398.24" fill="none" stroke="#ad1538" stroke-width="1.5"/>
<polyline points="287.80,397.17 301.00,398.24 314.20,398.24 327.40,397.17" fill="none" stroke="#ad1538" stroke-width="1.5"/>
<polyline points="287.80,398.24 301.00,397.17 314.20,398.77 327.40,398.24" fill="none" stroke="#ad1538" stroke-width="1.5"/>
<polyline points="287.80,395.04 301.00,396.11 314.20,397.17 327.40,396.64" fill="none" stroke="#ad1538" stroke-width="1.5"/>
<circle cx="287.80" cy="393.98" r="2.4" fill="#ad1538"/>
<circle cx="301.00" cy="396.11" r="2.4" fill="#ad1538"/>
<circle cx="314.20" cy="397.17" r="2.4" fill="#ad1538"/>
<circle cx="327.40" cy="396.11" r="2.4" fill="#ad1538"/>
<circle cx="287.80" cy="396.11" r="2.4" fill="#ad1538"/>
<circle cx="301.00" cy="397.17" r="2.4" fill="#ad1538"/>
<circle cx="314.20" cy="398.24" r="2.4" fill="#ad1538"/>
<circle cx="327.40" cy="398.24" r="2.4" fill="#ad1538"/>
<circle cx="287.80" cy="397.17" r="2.4" fill="#ad1538"/>
<circle cx="301.00" cy="398.24" r="2.4" fill="#ad1538"/>
<circle cx="314.20" cy="398.24" r="2.4" fill="#ad1538"/>
<circle cx="327.40" cy="397.17" r="2.4" fill="#ad1538"/>
<circle cx="287.80" cy="398.24" r="2.4" fill="#ad1538"/>
<circle cx="301.00" cy="397.17" r="2.4" fill="#ad1538"/>
<circle cx="314.20" cy="398.77" r="2.4" fill="#ad1538"/>
<circle cx="327.40" cy="398.24" r="2.4" fill="#ad1538"/>
<circle cx="287.80" cy="395.04" r="2.4" fill="#ad1538"/>
<circle cx="301.00" cy="396.11" r="2.4" fill="#ad1538"/>
<circle cx="314.20" cy="397.17" r="2.4" fill="#ad1538"/>
<circle cx="327.40" cy="396.64" r="2.4" fill="#ad1538"/>
<polyline points="287.80,366.29 301.00,357.76 314.20,355.63 327.40,356.70" fill="none" stroke="#2d4a87" stroke-width="1.5"/>
<polyline points="287.80,364.16 301.00,354.57 314.20,353.50 327.40,354.57" fill="none" stroke="#2d4a87" stroke-width="1.5"/>
<polyline points="287.80,362.03 301.00,351.38 314.20,351.38 327.40,352.44" fill="none" stroke="#2d4a87" stroke-width="1.5"/>
<polyline points="287.80,359.89 301.00,352.44 314.20,354.57 327.40,351.38" fill="none" stroke="#2d4a87" stroke-width="1.5"/>
<polyline points="287.80,363.09 301.00,355.63 314.20,352.44 327.40,355.63" fill="none" stroke="#2d4a87" stroke-width="1.5"/>
<polyline points="287.80,365.22 301.00,353.50 314.20,356.70 327.40,353.50" fill="none" stroke="#2d4a87" stroke-width="1.5"/>
<circle cx="287.80" cy="366.29" r="2.4" fill="#2d4a87"/>
<circle cx="301.00" cy="357.76" r="2.4" fill="#2d4a87"/>
<circle cx="314.20" cy="355.63" r="2.4" fill="#2d4a87"/>
<circle cx="327.40" cy="356.70" r="2.4" fill="#2d4a87"/>
<circle cx="287.80" cy="364.16" r="2.4" fill="#2d4a87"/>
<circle cx="301.00" cy="354.57" r="2.4" fill="#2d4a87"/>
<circle cx="314.20" cy="353.50" r="2.4" fill="#2d4a87"/>
<circle cx="327.40" cy="354.57" r="2.4" fill="#2d4a87"/>
<circle cx="287.80" cy="362.03" r="2.4" fill="#2d4a87"/>
<circle cx="301.00" cy="351.38" r="2.4" fill="#2d4a87"/>
<circle cx="314.20" cy="351.38" r="2.4" fill="#2d4a87"/>
<circle cx="327.40" cy="352.44" r="2.4" fill="#2d4a87"/>
<circle cx="287.80" cy="359.89" r="2.4" fill="#2d4a87"/>
<circle cx="301.00" cy="352.44" r="2.4" fill="#2d4a87"/>
<circle cx="314.20" cy="354.57" r="2.4" fill="#2d4a87"/>
<circle cx="327.40" cy="351.38" r="2.4" fill="#2d4a87"/>
<circle cx="287.80" cy="363.09" r="2.4" fill="#2d4a87"/>
<circle cx="301.00" cy="355.63" r="2.4" fill="#2d4a87"/>
<circle cx="314.20" cy="352.44" r="2.4" fill="#2d4a87"/>
<circle cx="327.40" cy="355.63" r="2.4" fill="#2d4a87"/>
<circle cx="287.80" cy="365.22" r="2.4" fill="#2d4a87"/>
<circle cx="301.00" cy="353.50" r="2.4" fill="#2d4a87"/>
<circle cx="314.20" cy="356.70" r="2.4" fill="#2d4a87"/>
<circle cx="327.40" cy="353.50" r="2.4" fill="#2d4a87"/>
<circle cx="287.80" cy="332.40" r="1.2" fill="#222"/>
<circle cx="287.80" cy="336.70" r="1.2" fill="#222"/>
<circle cx="287.80" cy="341.00" r="1.2" fill="#222"/>
<circle cx="301.00" cy="332.40" r="1.2" fill="#222"/>
<circle cx="301.00" cy="336.70" r="1.2" fill="#222"/>
<circle cx="301.00" cy="341.00" r="1.2" fill="#222"/>
<circle cx="314.20" cy="332.40" r="1.2" fill="#222"/>
<circle cx="314.20" cy="336.70" r="1.2" fill="#222"/>
<circle cx="314.20" cy="341.00" r="1.2" fill="#222"/>
<circle cx="327.40" cy="332.40" r="1.2" fill="#222"/>
<circle cx="327.40" cy="336.70" r="1.2" fill="#222"/>
<circle cx="327.40" cy="341.00" r="1.2" fill="#222"/>
<circle cx="335.90" cy="370.60" r="3.3" fill="#2d4a87"/>
<circle cx="335.90" cy="380.20" r="3.3" fill="#ad1538"/>
<text x="342.90" y="373.20" font-size="8.64" textLength="12.40" lengthAdjust="spacingAndGlyphs" stroke="#2a2a2a" stroke-width="0.12">+/+</text>
<text x="342.60" y="382.70" font-size="8.64" textLength="11.10" lengthAdjust="spacingAndGlyphs" stroke="#2a2a2a" stroke-width="0.12">F/F</text>
<text x="0" y="0" font-size="9.6" textLength="70.50" lengthAdjust="spacingAndGlyphs" text-anchor="middle" stroke="#2a2a2a" stroke-width="0.12" transform="translate(253.80,355.90) rotate(-90)">Blood chimerism [%]</text>
<text x="370.60" y="298.90" font-size="11.0" textLength="3.10" lengthAdjust="spacingAndGlyphs" font-weight="bold" fill="#000" stroke="#000" stroke-width="0.5">I</text>
<text x="403.00" y="305.80" font-size="10.44" textLength="29.60" lengthAdjust="spacingAndGlyphs" stroke="#2a2a2a" stroke-width="0.12">LT-HSC</text>
<line x1="403.20" y1="311.00" x2="403.20" y2="399.00" stroke="#111" stroke-width="1.2" stroke-linecap="butt"/>
<line x1="402.70" y1="398.50" x2="431.80" y2="398.50" stroke="#111" stroke-width="1.2" stroke-linecap="butt"/>
<line x1="400.20" y1="398.50" x2="403.20" y2="398.50" stroke="#111" stroke-width="1" stroke-linecap="butt"/>
<text x="397.60" y="400.40" font-size="8.88" text-anchor="end" stroke="#2a2a2a" stroke-width="0.12">10<tspan font-size="5.6" dy="-3.3">2</tspan></text>
<line x1="401.60" y1="390.06" x2="403.20" y2="390.06" stroke="#111" stroke-width="0.7" stroke-linecap="butt"/>
<line x1="401.60" y1="385.13" x2="403.20" y2="385.13" stroke="#111" stroke-width="0.7" stroke-linecap="butt"/>
<line x1="401.60" y1="381.62" x2="403.20" y2="381.62" stroke="#111" stroke-width="0.7" stroke-linecap="butt"/>
<line x1="401.60" y1="378.91" x2="403.20" y2="378.91" stroke="#111" stroke-width="0.7" stroke-linecap="butt"/>
<line x1="401.60" y1="376.69" x2="403.20" y2="376.69" stroke="#111" stroke-width="0.7" stroke-linecap="butt"/>
<line x1="401.60" y1="374.81" x2="403.20" y2="374.81" stroke="#111" stroke-width="0.7" stroke-linecap="butt"/>
<line x1="401.60" y1="373.19" x2="403.20" y2="373.19" stroke="#111" stroke-width="0.7" stroke-linecap="butt"/>
<line x1="401.60" y1="371.75" x2="403.20" y2="371.75" stroke="#111" stroke-width="0.7" stroke-linecap="butt"/>
<line x1="400.20" y1="370.47" x2="403.20" y2="370.47" stroke="#111" stroke-width="1" stroke-linecap="butt"/>
<text x="397.60" y="372.37" font-size="8.88" text-anchor="end" stroke="#2a2a2a" stroke-width="0.12">10<tspan font-size="5.6" dy="-3.3">3</tspan></text>
<line x1="401.60" y1="362.03" x2="403.20" y2="362.03" stroke="#111" stroke-width="0.7" stroke-linecap="butt"/>
<line x1="401.60" y1="357.10" x2="403.20" y2="357.10" stroke="#111" stroke-width="0.7" stroke-linecap="butt"/>
<line x1="401.60" y1="353.59" x2="403.20" y2="353.59" stroke="#111" stroke-width="0.7" stroke-linecap="butt"/>
<line x1="401.60" y1="350.88" x2="403.20" y2="350.88" stroke="#111" stroke-width="0.7" stroke-linecap="butt"/>
<line x1="401.60" y1="348.66" x2="403.20" y2="348.66" stroke="#111" stroke-width="0.7" stroke-linecap="butt"/>
<line x1="401.60" y1="346.78" x2="403.20" y2="346.78" stroke="#111" stroke-width="0.7" stroke-linecap="butt"/>
<line x1="401.60" y1="345.16" x2="403.20" y2="345.16" stroke="#111" stroke-width="0.7" stroke-linecap="butt"/>
<line x1="401.60" y1="343.72" x2="403.20" y2="343.72" stroke="#111" stroke-width="0.7" stroke-linecap="butt"/>
<line x1="400.20" y1="342.44" x2="403.20" y2="342.44" stroke="#111" stroke-width="1" stroke-linecap="butt"/>
<text x="397.60" y="344.34" font-size="8.88" text-anchor="end" stroke="#2a2a2a" stroke-width="0.12">10<tspan font-size="5.6" dy="-3.3">4</tspan></text>
<line x1="401.60" y1="334.00" x2="403.20" y2="334.00" stroke="#111" stroke-width="0.7" stroke-linecap="butt"/>
<line x1="401.60" y1="329.07" x2="403.20" y2="329.07" stroke="#111" stroke-width="0.7" stroke-linecap="butt"/>
<line x1="401.60" y1="325.56" x2="403.20" y2="325.56" stroke="#111" stroke-width="0.7" stroke-linecap="butt"/>
<line x1="401.60" y1="322.85" x2="403.20" y2="322.85" stroke="#111" stroke-width="0.7" stroke-linecap="butt"/>
<line x1="401.60" y1="320.63" x2="403.20" y2="320.63" stroke="#111" stroke-width="0.7" stroke-linecap="butt"/>
<line x1="401.60" y1="318.75" x2="403.20" y2="318.75" stroke="#111" stroke-width="0.7" stroke-linecap="butt"/>
<line x1="401.60" y1="317.13" x2="403.20" y2="317.13" stroke="#111" stroke-width="0.7" stroke-linecap="butt"/>
<line x1="401.60" y1="315.69" x2="403.20" y2="315.69" stroke="#111" stroke-width="0.7" stroke-linecap="butt"/>
<line x1="400.20" y1="314.41" x2="403.20" y2="314.41" stroke="#111" stroke-width="1" stroke-linecap="butt"/>
<text x="397.60" y="316.31" font-size="8.88" text-anchor="end" stroke="#2a2a2a" stroke-width="0.12">10<tspan font-size="5.6" dy="-3.3">5</tspan></text>
<line x1="411.50" y1="398.50" x2="411.50" y2="401.10" stroke="#111" stroke-width="1" stroke-linecap="butt"/>
<line x1="424.30" y1="398.50" x2="424.30" y2="401.10" stroke="#111" stroke-width="1" stroke-linecap="butt"/>
<line x1="411.30" y1="330.00" x2="411.30" y2="352.00" stroke="#2d4a87" stroke-width="1" stroke-linecap="butt"/>
<circle cx="411.00" cy="325.00" r="2.3" fill="#2d4a87" stroke="#fff" stroke-opacity="0.6" stroke-width="0.4"/>
<circle cx="407.50" cy="331.00" r="2.3" fill="#2d4a87" stroke="#fff" stroke-opacity="0.6" stroke-width="0.4"/>
<circle cx="414.00" cy="330.00" r="2.3" fill="#2d4a87" stroke="#fff" stroke-opacity="0.6" stroke-width="0.4"/>
<circle cx="409.00" cy="334.00" r="2.3" fill="#2d4a87" stroke="#fff" stroke-opacity="0.6" stroke-width="0.4"/>
<circle cx="415.00" cy="335.00" r="2.3" fill="#2d4a87" stroke="#fff" stroke-opacity="0.6" stroke-width="0.4"/>
<circle cx="412.00" cy="338.00" r="2.3" fill="#2d4a87" stroke="#fff" stroke-opacity="0.6" stroke-width="0.4"/>
<circle cx="408.00" cy="342.00" r="2.3" fill="#2d4a87" stroke="#fff" stroke-opacity="0.6" stroke-width="0.4"/>
<circle cx="414.00" cy="345.00" r="2.3" fill="#2d4a87" stroke="#fff" stroke-opacity="0.6" stroke-width="0.4"/>
<circle cx="410.00" cy="348.00" r="2.3" fill="#2d4a87" stroke="#fff" stroke-opacity="0.6" stroke-width="0.4"/>
<circle cx="407.00" cy="351.00" r="2.3" fill="#2d4a87" stroke="#fff" stroke-opacity="0.6" stroke-width="0.4"/>
<circle cx="413.00" cy="352.00" r="2.3" fill="#2d4a87" stroke="#fff" stroke-opacity="0.6" stroke-width="0.4"/>
<circle cx="409.00" cy="356.00" r="2.3" fill="#2d4a87" stroke="#fff" stroke-opacity="0.6" stroke-width="0.4"/>
<circle cx="413.00" cy="358.00" r="2.3" fill="#2d4a87" stroke="#fff" stroke-opacity="0.6" stroke-width="0.4"/>
<circle cx="410.00" cy="361.00" r="2.3" fill="#2d4a87" stroke="#fff" stroke-opacity="0.6" stroke-width="0.4"/>
<circle cx="422.00" cy="352.50" r="2.3" fill="#ad1538" stroke="#fff" stroke-opacity="0.6" stroke-width="0.4"/>
<circle cx="427.00" cy="356.00" r="2.3" fill="#ad1538" stroke="#fff" stroke-opacity="0.6" stroke-width="0.4"/>
<circle cx="424.00" cy="360.00" r="2.3" fill="#ad1538" stroke="#fff" stroke-opacity="0.6" stroke-width="0.4"/>
<circle cx="420.00" cy="363.00" r="2.3" fill="#ad1538" stroke="#fff" stroke-opacity="0.6" stroke-width="0.4"/>
<circle cx="427.00" cy="363.00" r="2.3" fill="#ad1538" stroke="#fff" stroke-opacity="0.6" stroke-width="0.4"/>
<circle cx="423.00" cy="366.00" r="2.3" fill="#ad1538" stroke="#fff" stroke-opacity="0.6" stroke-width="0.4"/>
<circle cx="428.00" cy="369.00" r="2.3" fill="#ad1538" stroke="#fff" stroke-opacity="0.6" stroke-width="0.4"/>
<circle cx="425.00" cy="372.00" r="2.3" fill="#ad1538" stroke="#fff" stroke-opacity="0.6" stroke-width="0.4"/>
<circle cx="421.00" cy="375.00" r="2.3" fill="#ad1538" stroke="#fff" stroke-opacity="0.6" stroke-width="0.4"/>
<circle cx="427.00" cy="376.00" r="2.3" fill="#ad1538" stroke="#fff" stroke-opacity="0.6" stroke-width="0.4"/>
<circle cx="424.00" cy="379.00" r="2.3" fill="#ad1538" stroke="#fff" stroke-opacity="0.6" stroke-width="0.4"/>
<circle cx="424.00" cy="383.00" r="2.3" fill="#ad1538" stroke="#fff" stroke-opacity="0.6" stroke-width="0.4"/>
<circle cx="423.00" cy="387.00" r="2.3" fill="#ad1538" stroke="#fff" stroke-opacity="0.6" stroke-width="0.4"/>
<line x1="407.00" y1="338.00" x2="415.50" y2="338.00" stroke="#111" stroke-width="1.2" stroke-linecap="butt"/>
<line x1="419.50" y1="366.50" x2="428.50" y2="366.50" stroke="#111" stroke-width="1.2" stroke-linecap="butt"/>
<line x1="412.50" y1="319.60" x2="432.30" y2="319.60" stroke="#1a1a1a" stroke-width="1.2" stroke-linecap="butt"/>
<circle cx="418.90" cy="315.40" r="1.3" fill="#1a1a1a"/>
<circle cx="422.40" cy="315.40" r="1.3" fill="#1a1a1a"/>
<circle cx="425.90" cy="315.40" r="1.3" fill="#1a1a1a"/>
<text x="406.70" y="412.30" font-size="8.88" textLength="11.30" lengthAdjust="spacingAndGlyphs" stroke="#2a2a2a" stroke-width="0.12">+/+</text>
<text x="419.50" y="412.30" font-size="8.88" textLength="10.30" lengthAdjust="spacingAndGlyphs" font-style="italic" stroke="#2a2a2a" stroke-width="0.12">F/F</text>
<text x="0" y="0" font-size="9.6" textLength="41.80" lengthAdjust="spacingAndGlyphs" text-anchor="middle" stroke="#2a2a2a" stroke-width="0.12" transform="translate(382.50,355.10) rotate(-90)">Cell number</text>
</g>
<rect x="0" y="0" width="520" height="1.6" fill="#000"/>
<rect x="0" y="0" width="1.5" height="422" fill="#000"/>
<rect x="518.3" y="0" width="1.7" height="422" fill="#000"/>
<rect x="0" y="420.6" width="520" height="1.4" fill="#000"/>
</svg>
</body></html>
